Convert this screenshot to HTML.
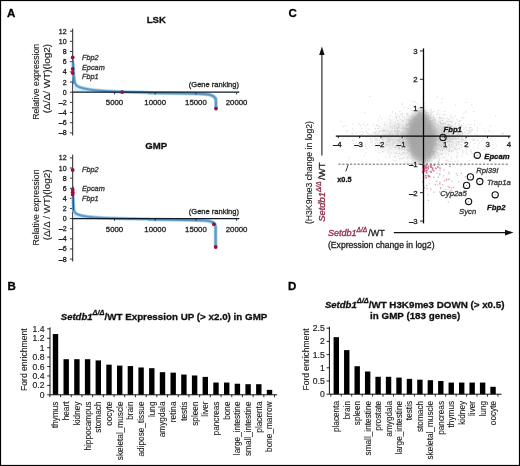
<!DOCTYPE html>
<html><head><meta charset="utf-8"><style>
html,body{margin:0;padding:0;background:#fff;}
#c{position:relative;width:520px;height:466px;overflow:hidden;background:#fff;}
svg{position:absolute;left:0;top:0;will-change:transform;}
text{font-family:"Liberation Sans", sans-serif;}
</style></head><body><div id="c">
<svg width="520" height="466" viewBox="0 0 520 466">
<rect x="0" y="0" width="520" height="466" fill="#fff"/>
<text x="7.00" y="17.20" font-size="11.5" text-anchor="start" font-weight="bold" font-style="normal" fill="#000" stroke="#000" stroke-width="0.3" >A</text>
<text x="288.50" y="17.20" font-size="11.5" text-anchor="start" font-weight="bold" font-style="normal" fill="#000" stroke="#000" stroke-width="0.3" >C</text>
<text x="7.50" y="290.20" font-size="11.5" text-anchor="start" font-weight="bold" font-style="normal" fill="#000" stroke="#000" stroke-width="0.3" >B</text>
<text x="288.00" y="290.20" font-size="11.5" text-anchor="start" font-weight="bold" font-style="normal" fill="#000" stroke="#000" stroke-width="0.3" >D</text>
<line x1="72.70" y1="28.70" x2="72.70" y2="135.50" stroke="#222" stroke-width="1" />
<line x1="69.90" y1="132.88" x2="72.70" y2="132.88" stroke="#222" stroke-width="0.9" />
<text x="66.60" y="135.38" font-size="7.0" text-anchor="end" font-weight="normal" font-style="normal" fill="#222" stroke="#222" stroke-width="0.3" >&#8211;8</text>
<line x1="69.90" y1="122.71" x2="72.70" y2="122.71" stroke="#222" stroke-width="0.9" />
<text x="66.60" y="125.21" font-size="7.0" text-anchor="end" font-weight="normal" font-style="normal" fill="#222" stroke="#222" stroke-width="0.3" >&#8211;6</text>
<line x1="69.90" y1="112.54" x2="72.70" y2="112.54" stroke="#222" stroke-width="0.9" />
<text x="66.60" y="115.04" font-size="7.0" text-anchor="end" font-weight="normal" font-style="normal" fill="#222" stroke="#222" stroke-width="0.3" >&#8211;4</text>
<line x1="69.90" y1="102.37" x2="72.70" y2="102.37" stroke="#222" stroke-width="0.9" />
<text x="66.60" y="104.87" font-size="7.0" text-anchor="end" font-weight="normal" font-style="normal" fill="#222" stroke="#222" stroke-width="0.3" >&#8211;2</text>
<line x1="69.90" y1="92.20" x2="72.70" y2="92.20" stroke="#222" stroke-width="0.9" />
<text x="66.60" y="94.70" font-size="7.0" text-anchor="end" font-weight="normal" font-style="normal" fill="#222" stroke="#222" stroke-width="0.3" >0</text>
<line x1="69.90" y1="82.03" x2="72.70" y2="82.03" stroke="#222" stroke-width="0.9" />
<text x="66.60" y="84.53" font-size="7.0" text-anchor="end" font-weight="normal" font-style="normal" fill="#222" stroke="#222" stroke-width="0.3" >2</text>
<line x1="69.90" y1="71.86" x2="72.70" y2="71.86" stroke="#222" stroke-width="0.9" />
<text x="66.60" y="74.36" font-size="7.0" text-anchor="end" font-weight="normal" font-style="normal" fill="#222" stroke="#222" stroke-width="0.3" >4</text>
<line x1="69.90" y1="61.69" x2="72.70" y2="61.69" stroke="#222" stroke-width="0.9" />
<text x="66.60" y="64.19" font-size="7.0" text-anchor="end" font-weight="normal" font-style="normal" fill="#222" stroke="#222" stroke-width="0.3" >6</text>
<line x1="69.90" y1="51.52" x2="72.70" y2="51.52" stroke="#222" stroke-width="0.9" />
<text x="66.60" y="54.02" font-size="7.0" text-anchor="end" font-weight="normal" font-style="normal" fill="#222" stroke="#222" stroke-width="0.3" >8</text>
<line x1="69.90" y1="41.35" x2="72.70" y2="41.35" stroke="#222" stroke-width="0.9" />
<text x="66.60" y="43.85" font-size="7.0" text-anchor="end" font-weight="normal" font-style="normal" fill="#222" stroke="#222" stroke-width="0.3" >10</text>
<line x1="69.90" y1="31.18" x2="72.70" y2="31.18" stroke="#222" stroke-width="0.9" />
<text x="66.60" y="33.68" font-size="7.0" text-anchor="end" font-weight="normal" font-style="normal" fill="#222" stroke="#222" stroke-width="0.3" >12</text>
<text x="156.30" y="22.70" font-size="9.6" text-anchor="middle" font-weight="bold" font-style="normal" fill="#111" stroke="#111" stroke-width="0.3" >LSK</text>
<g transform="translate(35.70,43.80) rotate(-90)"><text x="0" y="3.02" font-size="8.4" text-anchor="end" font-weight="normal" font-style="normal" fill="#222" stroke="#222" stroke-width="0.12" textLength="76" lengthAdjust="spacingAndGlyphs">Relative expression</text></g>
<g transform="translate(47.20,43.80) rotate(-90)"><text x="0" y="3.02" font-size="8.4" text-anchor="end" font-weight="normal" font-style="normal" fill="#222" stroke="#222" stroke-width="0.12" textLength="69.5" lengthAdjust="spacingAndGlyphs">(&#916;/&#916;/ WT)(log2)</text></g>
<path d="M73.00,62.71 L73.10,64.95 L73.20,66.96 L73.30,68.77 L73.40,70.40 L73.50,71.86 L73.60,73.18 L73.70,74.37 L73.80,75.44 L73.90,76.41 L74.00,77.28 L74.10,78.07 L74.20,78.78 L74.30,79.43 L74.40,80.01 L74.50,80.54 L74.60,81.02 L74.70,81.46 L74.80,81.86 L74.90,82.22 L75.00,82.55 L75.10,82.85 L75.20,83.13 L75.30,83.38 L75.40,83.62 L75.50,83.83 L75.60,84.03 L75.70,84.21 L75.80,84.38 L75.90,84.54 L76.00,84.69 L76.10,84.82 L76.35,85.13 L76.60,85.39 L76.85,85.62 L77.10,85.82 L77.35,86.00 L77.60,86.16 L77.85,86.31 L78.10,86.45 L78.35,86.57 L78.60,86.69 L78.85,86.81 L79.10,86.92 L79.35,87.02 L79.60,87.12 L79.85,87.22 L80.10,87.31 L80.35,87.40 L80.60,87.48 L80.85,87.57 L81.10,87.65 L81.35,87.73 L81.60,87.80 L81.85,87.88 L82.10,87.95 L82.35,88.02 L82.60,88.09 L82.85,88.16 L83.10,88.22 L83.35,88.29 L83.60,88.35 L83.85,88.41 L84.10,88.47 L84.35,88.53 L84.60,88.59 L84.85,88.64 L85.10,88.70 L85.35,88.75 L85.60,88.80 L85.85,88.85 L86.10,88.90 L86.35,88.95 L86.60,89.00 L86.85,89.04 L87.10,89.09 L87.35,89.14 L87.60,89.18 L87.85,89.22 L88.10,89.26 L88.35,89.31 L88.60,89.35 L88.85,89.39 L89.10,89.43 L89.35,89.47 L89.60,89.50 L89.85,89.54 L90.10,89.58 L91.10,89.72 L92.10,89.85 L93.10,89.97 L94.10,90.09 L95.10,90.19 L96.10,90.30 L97.10,90.39 L98.10,90.49 L99.10,90.57 L100.10,90.65 L101.10,90.73 L102.10,90.81 L103.10,90.88 L104.10,90.95 L105.10,91.01 L106.10,91.08 L107.10,91.14 L108.10,91.19 L109.10,91.25 L110.10,91.30 L111.10,91.35 L112.10,91.40 L113.10,91.45 L114.10,91.50 L115.10,91.54 L116.10,91.59 L117.10,91.63 L118.10,91.67 L119.10,91.71 L120.10,91.75 L121.10,91.78 L122.10,91.82 L123.10,91.86 L124.10,91.89 L125.10,91.92 L126.10,91.96 L127.10,91.99 L128.10,92.02 L129.10,92.05 L130.10,92.08 L131.10,92.11 L132.10,92.14 L133.10,92.16 L134.10,92.19 L135.10,92.22 L136.10,92.24 L137.10,92.27 L138.10,92.29 L139.10,92.32 L140.10,92.34 L141.10,92.36 L142.10,92.39 L143.10,92.41 L144.10,92.43 L145.10,92.45 L146.10,92.48 L147.10,92.50 L148.10,92.52 L149.10,92.54 L149.10,92.20 L73.00,92.20 Z" fill="#d9eff9"/><path d="M73.00,62.71 L73.10,64.95 L73.20,66.96 L73.30,68.77 L73.40,70.40 L73.50,71.86 L73.60,73.18 L73.70,74.37 L73.80,75.44 L73.90,76.41 L74.00,77.28 L74.10,78.07 L74.20,78.78 L74.30,79.43 L74.40,80.01 L74.50,80.54 L74.60,81.02 L74.70,81.46 L74.80,81.86 L74.90,82.22 L75.00,82.55 L75.10,82.85 L75.20,83.13 L75.30,83.38 L75.40,83.62 L75.50,83.83 L75.60,84.03 L75.70,84.21 L75.80,84.38 L75.90,84.54 L76.00,84.69 L76.10,84.82 L76.35,85.13 L76.60,85.39 L76.85,85.62 L77.10,85.82 L77.35,86.00 L77.60,86.16 L77.85,86.31 L78.10,86.45 L78.35,86.57 L78.60,86.69 L78.85,86.81 L79.10,86.92 L79.35,87.02 L79.60,87.12 L79.85,87.22 L80.10,87.31 L80.35,87.40 L80.60,87.48 L80.85,87.57 L81.10,87.65 L81.35,87.73 L81.60,87.80 L81.85,87.88 L82.10,87.95 L82.35,88.02 L82.60,88.09 L82.85,88.16 L83.10,88.22 L83.35,88.29 L83.60,88.35 L83.85,88.41 L84.10,88.47 L84.35,88.53 L84.60,88.59 L84.85,88.64 L85.10,88.70 L85.35,88.75 L85.60,88.80 L85.85,88.85 L86.10,88.90 L86.35,88.95 L86.60,89.00 L86.85,89.04 L87.10,89.09 L87.35,89.14 L87.60,89.18 L87.85,89.22 L88.10,89.26 L88.35,89.31 L88.60,89.35 L88.85,89.39 L89.10,89.43 L89.35,89.47 L89.60,89.50 L89.85,89.54 L90.10,89.58 L91.10,89.72 L92.10,89.85 L93.10,89.97 L94.10,90.09 L95.10,90.19 L96.10,90.30 L97.10,90.39 L98.10,90.49 L99.10,90.57 L100.10,90.65 L101.10,90.73 L102.10,90.81 L103.10,90.88 L104.10,90.95 L105.10,91.01 L106.10,91.08 L107.10,91.14 L108.10,91.19 L109.10,91.25 L110.10,91.30 L111.10,91.35 L112.10,91.40 L113.10,91.45 L114.10,91.50 L115.10,91.54 L116.10,91.59 L117.10,91.63 L118.10,91.67 L119.10,91.71 L120.10,91.75 L121.10,91.78 L122.10,91.82 L123.10,91.86 L124.10,91.89 L125.10,91.92 L126.10,91.96 L127.10,91.99 L128.10,92.02 L129.10,92.05 L130.10,92.08 L131.10,92.11 L132.10,92.14 L133.10,92.16 L134.10,92.19 L135.10,92.22 L136.10,92.24 L137.10,92.27 L138.10,92.29 L139.10,92.32 L140.10,92.34 L141.10,92.36 L142.10,92.39 L143.10,92.41 L144.10,92.43 L145.10,92.45 L146.10,92.48 L147.10,92.50 L148.10,92.52 L149.10,92.54" fill="none" stroke="#a3d3ee" stroke-width="3.6" stroke-linejoin="round"/><path d="M73.00,62.71 L73.10,64.95 L73.20,66.96 L73.30,68.77 L73.40,70.40 L73.50,71.86 L73.60,73.18 L73.70,74.37 L73.80,75.44 L73.90,76.41 L74.00,77.28 L74.10,78.07 L74.20,78.78 L74.30,79.43 L74.40,80.01 L74.50,80.54 L74.60,81.02 L74.70,81.46 L74.80,81.86 L74.90,82.22 L75.00,82.55 L75.10,82.85 L75.20,83.13 L75.30,83.38 L75.40,83.62 L75.50,83.83 L75.60,84.03 L75.70,84.21 L75.80,84.38 L75.90,84.54 L76.00,84.69 L76.10,84.82 L76.35,85.13 L76.60,85.39 L76.85,85.62 L77.10,85.82 L77.35,86.00 L77.60,86.16 L77.85,86.31 L78.10,86.45 L78.35,86.57 L78.60,86.69 L78.85,86.81 L79.10,86.92 L79.35,87.02 L79.60,87.12 L79.85,87.22 L80.10,87.31 L80.35,87.40 L80.60,87.48 L80.85,87.57 L81.10,87.65 L81.35,87.73 L81.60,87.80 L81.85,87.88 L82.10,87.95 L82.35,88.02 L82.60,88.09 L82.85,88.16 L83.10,88.22 L83.35,88.29 L83.60,88.35 L83.85,88.41 L84.10,88.47 L84.35,88.53 L84.60,88.59 L84.85,88.64 L85.10,88.70 L85.35,88.75 L85.60,88.80 L85.85,88.85 L86.10,88.90 L86.35,88.95 L86.60,89.00 L86.85,89.04 L87.10,89.09 L87.35,89.14 L87.60,89.18 L87.85,89.22 L88.10,89.26 L88.35,89.31 L88.60,89.35 L88.85,89.39 L89.10,89.43 L89.35,89.47 L89.60,89.50 L89.85,89.54 L90.10,89.58 L91.10,89.72 L92.10,89.85 L93.10,89.97 L94.10,90.09 L95.10,90.19 L96.10,90.30 L97.10,90.39 L98.10,90.49 L99.10,90.57 L100.10,90.65 L101.10,90.73 L102.10,90.81 L103.10,90.88 L104.10,90.95 L105.10,91.01 L106.10,91.08 L107.10,91.14 L108.10,91.19 L109.10,91.25 L110.10,91.30 L111.10,91.35 L112.10,91.40 L113.10,91.45 L114.10,91.50 L115.10,91.54 L116.10,91.59 L117.10,91.63 L118.10,91.67 L119.10,91.71 L120.10,91.75 L121.10,91.78 L122.10,91.82 L123.10,91.86 L124.10,91.89 L125.10,91.92 L126.10,91.96 L127.10,91.99 L128.10,92.02 L129.10,92.05 L130.10,92.08 L131.10,92.11 L132.10,92.14 L133.10,92.16 L134.10,92.19 L135.10,92.22 L136.10,92.24 L137.10,92.27 L138.10,92.29 L139.10,92.32 L140.10,92.34 L141.10,92.36 L142.10,92.39 L143.10,92.41 L144.10,92.43 L145.10,92.45 L146.10,92.48 L147.10,92.50 L148.10,92.52 L149.10,92.54" fill="none" stroke="#5b98cb" stroke-width="1.9" stroke-linejoin="round"/><path d="M148,92.9 C172,93.1 195,93.6 205,94.1 Q215.9,94.8 215.9,100.5 L215.9,108.6" fill="none" stroke="#a8d6ee" stroke-width="3.8" stroke-linecap="butt"/><path d="M148,92.9 C172,93.1 195,93.6 205,94.1 Q215.9,94.8 215.9,100.5 L215.9,108.6" fill="none" stroke="#6398c2" stroke-width="2.2" stroke-linecap="butt"/><path d="M73.3,60.16 L73.3,84.06" stroke="#3f80b8" stroke-width="1.5"/>
<line x1="72.70" y1="92.20" x2="239.30" y2="92.20" stroke="#0d1a2a" stroke-width="1.3" />
<line x1="114.50" y1="92.20" x2="114.50" y2="94.40" stroke="#222" stroke-width="0.9" />
<text x="114.50" y="105.20" font-size="7.8" text-anchor="middle" font-weight="normal" font-style="normal" fill="#222" stroke="#222" stroke-width="0.3" >5000</text>
<line x1="155.20" y1="92.20" x2="155.20" y2="94.40" stroke="#222" stroke-width="0.9" />
<text x="155.20" y="105.20" font-size="7.8" text-anchor="middle" font-weight="normal" font-style="normal" fill="#222" stroke="#222" stroke-width="0.3" >10000</text>
<line x1="195.90" y1="92.20" x2="195.90" y2="94.40" stroke="#222" stroke-width="0.9" />
<text x="195.90" y="105.20" font-size="7.8" text-anchor="middle" font-weight="normal" font-style="normal" fill="#222" stroke="#222" stroke-width="0.3" >15000</text>
<line x1="236.60" y1="92.20" x2="236.60" y2="94.40" stroke="#222" stroke-width="0.9" />
<text x="236.60" y="105.20" font-size="7.8" text-anchor="middle" font-weight="normal" font-style="normal" fill="#222" stroke="#222" stroke-width="0.3" >20000</text>
<text x="239.00" y="87.20" font-size="7.55" text-anchor="end" font-weight="normal" font-style="normal" fill="#222" stroke="#222" stroke-width="0.3" textLength="50.2" lengthAdjust="spacingAndGlyphs" >(Gene ranking)</text>
<circle cx="72.7" cy="57.5" r="1.9" fill="#9a0f3a"/>
<circle cx="72.7" cy="69.0" r="1.9" fill="#9a0f3a"/>
<circle cx="72.7" cy="73.0" r="1.9" fill="#9a0f3a"/>
<circle cx="122.2" cy="92.1" r="1.9" fill="#9a0f3a"/>
<circle cx="216.0" cy="108.6" r="1.9" fill="#9a0f3a"/>
<text x="82.00" y="59.80" font-size="7.3" text-anchor="start" font-weight="normal" font-style="italic" fill="#333" stroke="#333" stroke-width="0.3" >Fbp2</text>
<text x="82.00" y="69.80" font-size="7.3" text-anchor="start" font-weight="normal" font-style="italic" fill="#333" stroke="#333" stroke-width="0.3" >Epcam</text>
<text x="82.00" y="79.40" font-size="7.3" text-anchor="start" font-weight="normal" font-style="italic" fill="#333" stroke="#333" stroke-width="0.3" >Fbp1</text>
<line x1="72.70" y1="154.60" x2="72.70" y2="261.50" stroke="#222" stroke-width="1" />
<line x1="69.90" y1="259.08" x2="72.70" y2="259.08" stroke="#222" stroke-width="0.9" />
<text x="66.60" y="261.58" font-size="7.0" text-anchor="end" font-weight="normal" font-style="normal" fill="#222" stroke="#222" stroke-width="0.3" >&#8211;8</text>
<line x1="69.90" y1="248.96" x2="72.70" y2="248.96" stroke="#222" stroke-width="0.9" />
<text x="66.60" y="251.46" font-size="7.0" text-anchor="end" font-weight="normal" font-style="normal" fill="#222" stroke="#222" stroke-width="0.3" >&#8211;6</text>
<line x1="69.90" y1="238.84" x2="72.70" y2="238.84" stroke="#222" stroke-width="0.9" />
<text x="66.60" y="241.34" font-size="7.0" text-anchor="end" font-weight="normal" font-style="normal" fill="#222" stroke="#222" stroke-width="0.3" >&#8211;4</text>
<line x1="69.90" y1="228.72" x2="72.70" y2="228.72" stroke="#222" stroke-width="0.9" />
<text x="66.60" y="231.22" font-size="7.0" text-anchor="end" font-weight="normal" font-style="normal" fill="#222" stroke="#222" stroke-width="0.3" >&#8211;2</text>
<line x1="69.90" y1="218.60" x2="72.70" y2="218.60" stroke="#222" stroke-width="0.9" />
<text x="66.60" y="221.10" font-size="7.0" text-anchor="end" font-weight="normal" font-style="normal" fill="#222" stroke="#222" stroke-width="0.3" >0</text>
<line x1="69.90" y1="208.48" x2="72.70" y2="208.48" stroke="#222" stroke-width="0.9" />
<text x="66.60" y="210.98" font-size="7.0" text-anchor="end" font-weight="normal" font-style="normal" fill="#222" stroke="#222" stroke-width="0.3" >2</text>
<line x1="69.90" y1="198.36" x2="72.70" y2="198.36" stroke="#222" stroke-width="0.9" />
<text x="66.60" y="200.86" font-size="7.0" text-anchor="end" font-weight="normal" font-style="normal" fill="#222" stroke="#222" stroke-width="0.3" >4</text>
<line x1="69.90" y1="188.24" x2="72.70" y2="188.24" stroke="#222" stroke-width="0.9" />
<text x="66.60" y="190.74" font-size="7.0" text-anchor="end" font-weight="normal" font-style="normal" fill="#222" stroke="#222" stroke-width="0.3" >6</text>
<line x1="69.90" y1="178.12" x2="72.70" y2="178.12" stroke="#222" stroke-width="0.9" />
<text x="66.60" y="180.62" font-size="7.0" text-anchor="end" font-weight="normal" font-style="normal" fill="#222" stroke="#222" stroke-width="0.3" >8</text>
<line x1="69.90" y1="168.00" x2="72.70" y2="168.00" stroke="#222" stroke-width="0.9" />
<text x="66.60" y="170.50" font-size="7.0" text-anchor="end" font-weight="normal" font-style="normal" fill="#222" stroke="#222" stroke-width="0.3" >10</text>
<line x1="69.90" y1="157.88" x2="72.70" y2="157.88" stroke="#222" stroke-width="0.9" />
<text x="66.60" y="160.38" font-size="7.0" text-anchor="end" font-weight="normal" font-style="normal" fill="#222" stroke="#222" stroke-width="0.3" >12</text>
<text x="156.30" y="149.40" font-size="9.6" text-anchor="middle" font-weight="bold" font-style="normal" fill="#111" stroke="#111" stroke-width="0.3" >GMP</text>
<g transform="translate(35.70,169.50) rotate(-90)"><text x="0" y="3.02" font-size="8.4" text-anchor="end" font-weight="normal" font-style="normal" fill="#222" stroke="#222" stroke-width="0.12" textLength="76" lengthAdjust="spacingAndGlyphs">Relative expression</text></g>
<g transform="translate(47.20,169.50) rotate(-90)"><text x="0" y="3.02" font-size="8.4" text-anchor="end" font-weight="normal" font-style="normal" fill="#222" stroke="#222" stroke-width="0.12" textLength="70.8" lengthAdjust="spacingAndGlyphs">(&#916;/&#916; / WT)(log2)</text></g>
<path d="M73.00,196.27 L73.10,199.05 L73.20,201.34 L73.30,203.24 L73.40,204.80 L73.50,206.10 L73.60,207.19 L73.70,208.09 L73.80,208.84 L73.90,209.47 L74.00,210.00 L74.10,210.46 L74.20,210.84 L74.30,211.17 L74.40,211.45 L74.50,211.69 L74.60,211.90 L74.70,212.09 L74.80,212.26 L74.90,212.40 L75.00,212.54 L75.10,212.66 L75.20,212.77 L75.30,212.87 L75.40,212.96 L75.50,213.05 L75.60,213.13 L75.70,213.21 L75.80,213.28 L75.90,213.35 L76.00,213.42 L76.10,213.49 L76.35,213.64 L76.60,213.78 L76.85,213.91 L77.10,214.04 L77.35,214.16 L77.60,214.27 L77.85,214.38 L78.10,214.48 L78.35,214.58 L78.60,214.68 L78.85,214.77 L79.10,214.86 L79.35,214.94 L79.60,215.02 L79.85,215.10 L80.10,215.18 L80.35,215.25 L80.60,215.32 L80.85,215.39 L81.10,215.46 L81.35,215.52 L81.60,215.58 L81.85,215.64 L82.10,215.70 L82.35,215.76 L82.60,215.82 L82.85,215.87 L83.10,215.92 L83.35,215.97 L83.60,216.02 L83.85,216.07 L84.10,216.12 L84.35,216.16 L84.60,216.21 L84.85,216.25 L85.10,216.29 L85.35,216.33 L85.60,216.37 L85.85,216.41 L86.10,216.45 L86.35,216.49 L86.60,216.52 L86.85,216.56 L87.10,216.59 L87.35,216.63 L87.60,216.66 L87.85,216.69 L88.10,216.72 L88.35,216.76 L88.60,216.79 L88.85,216.82 L89.10,216.84 L89.35,216.87 L89.60,216.90 L89.85,216.93 L90.10,216.96 L91.10,217.06 L92.10,217.15 L93.10,217.24 L94.10,217.33 L95.10,217.40 L96.10,217.48 L97.10,217.55 L98.10,217.61 L99.10,217.67 L100.10,217.73 L101.10,217.78 L102.10,217.84 L103.10,217.89 L104.10,217.93 L105.10,217.98 L106.10,218.02 L107.10,218.07 L108.10,218.11 L109.10,218.14 L110.10,218.18 L111.10,218.22 L112.10,218.25 L113.10,218.29 L114.10,218.32 L115.10,218.35 L116.10,218.38 L117.10,218.41 L118.10,218.44 L119.10,218.46 L120.10,218.49 L121.10,218.52 L122.10,218.54 L123.10,218.57 L124.10,218.59 L125.10,218.62 L126.10,218.64 L127.10,218.66 L128.10,218.68 L129.10,218.70 L130.10,218.73 L131.10,218.75 L132.10,218.77 L133.10,218.79 L134.10,218.80 L135.10,218.82 L136.10,218.84 L137.10,218.86 L138.10,218.88 L139.10,218.90 L140.10,218.91 L141.10,218.93 L142.10,218.95 L143.10,218.96 L144.10,218.98 L145.10,219.00 L146.10,219.01 L147.10,219.03 L148.10,219.04 L149.10,219.06 L149.10,218.60 L73.00,218.60 Z" fill="#d9eff9"/><path d="M73.00,196.27 L73.10,199.05 L73.20,201.34 L73.30,203.24 L73.40,204.80 L73.50,206.10 L73.60,207.19 L73.70,208.09 L73.80,208.84 L73.90,209.47 L74.00,210.00 L74.10,210.46 L74.20,210.84 L74.30,211.17 L74.40,211.45 L74.50,211.69 L74.60,211.90 L74.70,212.09 L74.80,212.26 L74.90,212.40 L75.00,212.54 L75.10,212.66 L75.20,212.77 L75.30,212.87 L75.40,212.96 L75.50,213.05 L75.60,213.13 L75.70,213.21 L75.80,213.28 L75.90,213.35 L76.00,213.42 L76.10,213.49 L76.35,213.64 L76.60,213.78 L76.85,213.91 L77.10,214.04 L77.35,214.16 L77.60,214.27 L77.85,214.38 L78.10,214.48 L78.35,214.58 L78.60,214.68 L78.85,214.77 L79.10,214.86 L79.35,214.94 L79.60,215.02 L79.85,215.10 L80.10,215.18 L80.35,215.25 L80.60,215.32 L80.85,215.39 L81.10,215.46 L81.35,215.52 L81.60,215.58 L81.85,215.64 L82.10,215.70 L82.35,215.76 L82.60,215.82 L82.85,215.87 L83.10,215.92 L83.35,215.97 L83.60,216.02 L83.85,216.07 L84.10,216.12 L84.35,216.16 L84.60,216.21 L84.85,216.25 L85.10,216.29 L85.35,216.33 L85.60,216.37 L85.85,216.41 L86.10,216.45 L86.35,216.49 L86.60,216.52 L86.85,216.56 L87.10,216.59 L87.35,216.63 L87.60,216.66 L87.85,216.69 L88.10,216.72 L88.35,216.76 L88.60,216.79 L88.85,216.82 L89.10,216.84 L89.35,216.87 L89.60,216.90 L89.85,216.93 L90.10,216.96 L91.10,217.06 L92.10,217.15 L93.10,217.24 L94.10,217.33 L95.10,217.40 L96.10,217.48 L97.10,217.55 L98.10,217.61 L99.10,217.67 L100.10,217.73 L101.10,217.78 L102.10,217.84 L103.10,217.89 L104.10,217.93 L105.10,217.98 L106.10,218.02 L107.10,218.07 L108.10,218.11 L109.10,218.14 L110.10,218.18 L111.10,218.22 L112.10,218.25 L113.10,218.29 L114.10,218.32 L115.10,218.35 L116.10,218.38 L117.10,218.41 L118.10,218.44 L119.10,218.46 L120.10,218.49 L121.10,218.52 L122.10,218.54 L123.10,218.57 L124.10,218.59 L125.10,218.62 L126.10,218.64 L127.10,218.66 L128.10,218.68 L129.10,218.70 L130.10,218.73 L131.10,218.75 L132.10,218.77 L133.10,218.79 L134.10,218.80 L135.10,218.82 L136.10,218.84 L137.10,218.86 L138.10,218.88 L139.10,218.90 L140.10,218.91 L141.10,218.93 L142.10,218.95 L143.10,218.96 L144.10,218.98 L145.10,219.00 L146.10,219.01 L147.10,219.03 L148.10,219.04 L149.10,219.06" fill="none" stroke="#a3d3ee" stroke-width="3.6" stroke-linejoin="round"/><path d="M73.00,196.27 L73.10,199.05 L73.20,201.34 L73.30,203.24 L73.40,204.80 L73.50,206.10 L73.60,207.19 L73.70,208.09 L73.80,208.84 L73.90,209.47 L74.00,210.00 L74.10,210.46 L74.20,210.84 L74.30,211.17 L74.40,211.45 L74.50,211.69 L74.60,211.90 L74.70,212.09 L74.80,212.26 L74.90,212.40 L75.00,212.54 L75.10,212.66 L75.20,212.77 L75.30,212.87 L75.40,212.96 L75.50,213.05 L75.60,213.13 L75.70,213.21 L75.80,213.28 L75.90,213.35 L76.00,213.42 L76.10,213.49 L76.35,213.64 L76.60,213.78 L76.85,213.91 L77.10,214.04 L77.35,214.16 L77.60,214.27 L77.85,214.38 L78.10,214.48 L78.35,214.58 L78.60,214.68 L78.85,214.77 L79.10,214.86 L79.35,214.94 L79.60,215.02 L79.85,215.10 L80.10,215.18 L80.35,215.25 L80.60,215.32 L80.85,215.39 L81.10,215.46 L81.35,215.52 L81.60,215.58 L81.85,215.64 L82.10,215.70 L82.35,215.76 L82.60,215.82 L82.85,215.87 L83.10,215.92 L83.35,215.97 L83.60,216.02 L83.85,216.07 L84.10,216.12 L84.35,216.16 L84.60,216.21 L84.85,216.25 L85.10,216.29 L85.35,216.33 L85.60,216.37 L85.85,216.41 L86.10,216.45 L86.35,216.49 L86.60,216.52 L86.85,216.56 L87.10,216.59 L87.35,216.63 L87.60,216.66 L87.85,216.69 L88.10,216.72 L88.35,216.76 L88.60,216.79 L88.85,216.82 L89.10,216.84 L89.35,216.87 L89.60,216.90 L89.85,216.93 L90.10,216.96 L91.10,217.06 L92.10,217.15 L93.10,217.24 L94.10,217.33 L95.10,217.40 L96.10,217.48 L97.10,217.55 L98.10,217.61 L99.10,217.67 L100.10,217.73 L101.10,217.78 L102.10,217.84 L103.10,217.89 L104.10,217.93 L105.10,217.98 L106.10,218.02 L107.10,218.07 L108.10,218.11 L109.10,218.14 L110.10,218.18 L111.10,218.22 L112.10,218.25 L113.10,218.29 L114.10,218.32 L115.10,218.35 L116.10,218.38 L117.10,218.41 L118.10,218.44 L119.10,218.46 L120.10,218.49 L121.10,218.52 L122.10,218.54 L123.10,218.57 L124.10,218.59 L125.10,218.62 L126.10,218.64 L127.10,218.66 L128.10,218.68 L129.10,218.70 L130.10,218.73 L131.10,218.75 L132.10,218.77 L133.10,218.79 L134.10,218.80 L135.10,218.82 L136.10,218.84 L137.10,218.86 L138.10,218.88 L139.10,218.90 L140.10,218.91 L141.10,218.93 L142.10,218.95 L143.10,218.96 L144.10,218.98 L145.10,219.00 L146.10,219.01 L147.10,219.03 L148.10,219.04 L149.10,219.06" fill="none" stroke="#5b98cb" stroke-width="1.9" stroke-linejoin="round"/><path d="M148,219.3 C172,219.5 195,220.0 205,220.5 Q215.6,221.2 215.6,227 L215.6,247" fill="none" stroke="#a8d6ee" stroke-width="3.8" stroke-linecap="butt"/><path d="M148,219.3 C172,219.5 195,220.0 205,220.5 Q215.6,221.2 215.6,227 L215.6,247" fill="none" stroke="#6398c2" stroke-width="2.2" stroke-linecap="butt"/><path d="M73.3,186.72 L73.3,210.50" stroke="#1f5a8e" stroke-width="1.5"/>
<line x1="72.70" y1="218.60" x2="239.30" y2="218.60" stroke="#0d1a2a" stroke-width="1.3" />
<line x1="114.50" y1="218.60" x2="114.50" y2="220.80" stroke="#222" stroke-width="0.9" />
<text x="114.50" y="231.60" font-size="7.8" text-anchor="middle" font-weight="normal" font-style="normal" fill="#222" stroke="#222" stroke-width="0.3" >5000</text>
<line x1="155.20" y1="218.60" x2="155.20" y2="220.80" stroke="#222" stroke-width="0.9" />
<text x="155.20" y="231.60" font-size="7.8" text-anchor="middle" font-weight="normal" font-style="normal" fill="#222" stroke="#222" stroke-width="0.3" >10000</text>
<line x1="195.90" y1="218.60" x2="195.90" y2="220.80" stroke="#222" stroke-width="0.9" />
<text x="195.90" y="231.60" font-size="7.8" text-anchor="middle" font-weight="normal" font-style="normal" fill="#222" stroke="#222" stroke-width="0.3" >15000</text>
<line x1="236.60" y1="218.60" x2="236.60" y2="220.80" stroke="#222" stroke-width="0.9" />
<text x="236.60" y="231.60" font-size="7.8" text-anchor="middle" font-weight="normal" font-style="normal" fill="#222" stroke="#222" stroke-width="0.3" >20000</text>
<text x="239.00" y="214.40" font-size="7.55" text-anchor="end" font-weight="normal" font-style="normal" fill="#222" stroke="#222" stroke-width="0.3" textLength="50.2" lengthAdjust="spacingAndGlyphs" >(Gene ranking)</text>
<circle cx="72.7" cy="170.0" r="1.9" fill="#9a0f3a"/>
<circle cx="72.7" cy="189.8" r="1.9" fill="#9a0f3a"/>
<circle cx="72.7" cy="192.3" r="1.9" fill="#9a0f3a"/>
<circle cx="72.7" cy="194.6" r="1.9" fill="#9a0f3a"/>
<circle cx="213.9" cy="224.2" r="1.9" fill="#9a0f3a"/>
<circle cx="215.7" cy="247.0" r="1.9" fill="#9a0f3a"/>
<text x="82.00" y="172.30" font-size="7.3" text-anchor="start" font-weight="normal" font-style="italic" fill="#333" stroke="#333" stroke-width="0.3" >Fbp2</text>
<text x="82.00" y="190.90" font-size="7.3" text-anchor="start" font-weight="normal" font-style="italic" fill="#333" stroke="#333" stroke-width="0.3" >Epcam</text>
<text x="82.00" y="201.10" font-size="7.3" text-anchor="start" font-weight="normal" font-style="italic" fill="#333" stroke="#333" stroke-width="0.3" >Fbp1</text>
<defs><filter id="bl" x="-50%" y="-50%" width="200%" height="200%"><feGaussianBlur stdDeviation="2.4"/></filter><filter id="bl2" x="-50%" y="-50%" width="200%" height="200%"><feGaussianBlur stdDeviation="6"/></filter><clipPath id="cc"><rect x="330" y="40" width="185" height="124.2"/></clipPath></defs>
<g clip-path="url(#cc)">
<ellipse cx="419.5" cy="137.0" rx="42" ry="19" fill="#e9e9e9" filter="url(#bl2)"/>
<polygon points="422,108 431,120 437,137 434,155 424,165 411,156 406,137 410,119" fill="#aaaaaa" filter="url(#bl)"/>
<path d="M468.8 127.0h1v1h-1zM397.1 139.9h1v1h-1zM386.6 136.3h1v1h-1zM431.8 136.8h1v1h-1zM424.4 161.1h1v1h-1zM410.3 135.6h1v1h-1zM422.8 138.9h1v1h-1zM411.6 129.0h1v1h-1zM421.8 140.0h1v1h-1zM410.8 141.8h1v1h-1zM446.5 128.5h1v1h-1zM430.4 149.5h1v1h-1zM422.2 129.7h1v1h-1zM443.5 128.0h1v1h-1zM421.6 134.5h1v1h-1zM426.0 131.3h1v1h-1zM401.3 132.5h1v1h-1zM437.3 135.4h1v1h-1zM379.1 125.8h1v1h-1zM422.5 127.1h1v1h-1zM428.6 117.5h1v1h-1zM423.8 132.3h1v1h-1zM413.1 148.4h1v1h-1zM402.9 131.8h1v1h-1zM424.8 131.6h1v1h-1zM456.5 119.0h1v1h-1zM442.3 126.2h1v1h-1zM472.0 136.7h1v1h-1zM419.5 136.1h1v1h-1zM418.8 137.3h1v1h-1zM437.9 110.0h1v1h-1zM414.1 131.7h1v1h-1zM425.2 135.5h1v1h-1zM359.4 134.5h1v1h-1zM437.6 136.0h1v1h-1zM411.7 127.9h1v1h-1zM391.7 134.6h1v1h-1zM471.2 130.5h1v1h-1zM394.5 130.4h1v1h-1zM424.9 147.8h1v1h-1zM433.5 142.2h1v1h-1zM377.3 134.7h1v1h-1zM401.7 103.3h1v1h-1zM434.7 139.7h1v1h-1zM411.8 127.4h1v1h-1zM398.3 124.5h1v1h-1zM420.1 132.3h1v1h-1zM353.5 130.6h1v1h-1zM405.4 131.0h1v1h-1zM471.1 135.3h1v1h-1zM419.6 139.5h1v1h-1zM438.5 141.6h1v1h-1zM448.2 151.3h1v1h-1zM386.6 141.5h1v1h-1zM414.8 135.2h1v1h-1zM433.0 147.0h1v1h-1zM347.2 137.4h1v1h-1zM448.7 144.0h1v1h-1zM439.9 134.6h1v1h-1zM423.2 142.4h1v1h-1zM414.8 150.9h1v1h-1zM423.1 138.9h1v1h-1zM401.4 133.4h1v1h-1zM451.1 156.5h1v1h-1zM458.5 121.1h1v1h-1zM411.9 153.5h1v1h-1zM409.1 137.6h1v1h-1zM438.3 142.9h1v1h-1zM441.1 123.0h1v1h-1zM390.6 138.4h1v1h-1zM424.2 142.0h1v1h-1zM401.6 141.0h1v1h-1zM405.4 130.0h1v1h-1zM434.4 146.2h1v1h-1zM462.8 151.6h1v1h-1zM415.2 131.0h1v1h-1zM406.4 135.4h1v1h-1zM447.0 159.9h1v1h-1zM402.4 140.3h1v1h-1zM426.2 137.5h1v1h-1zM502.1 132.5h1v1h-1zM416.7 146.9h1v1h-1zM417.2 131.1h1v1h-1zM416.1 129.9h1v1h-1zM422.2 135.7h1v1h-1zM418.7 150.6h1v1h-1zM431.5 125.7h1v1h-1zM418.5 140.7h1v1h-1zM418.7 144.6h1v1h-1zM424.8 136.6h1v1h-1zM463.6 127.7h1v1h-1zM412.0 159.7h1v1h-1zM418.8 137.9h1v1h-1zM438.7 138.9h1v1h-1zM423.3 142.1h1v1h-1zM381.7 145.1h1v1h-1zM361.5 134.1h1v1h-1zM415.5 101.9h1v1h-1zM422.4 131.2h1v1h-1zM422.1 118.6h1v1h-1zM437.5 135.6h1v1h-1zM420.9 136.0h1v1h-1zM473.6 133.6h1v1h-1zM427.3 136.0h1v1h-1zM424.8 130.1h1v1h-1zM419.1 136.8h1v1h-1zM421.1 140.3h1v1h-1zM429.1 136.8h1v1h-1zM407.1 123.7h1v1h-1zM426.0 136.4h1v1h-1zM443.8 156.5h1v1h-1zM396.6 136.8h1v1h-1zM436.0 144.4h1v1h-1zM413.2 141.2h1v1h-1zM402.3 145.2h1v1h-1zM402.5 133.5h1v1h-1zM394.8 147.1h1v1h-1zM419.5 130.2h1v1h-1zM424.7 123.6h1v1h-1zM422.3 139.4h1v1h-1zM438.4 136.1h1v1h-1zM413.3 146.0h1v1h-1zM428.8 130.7h1v1h-1zM445.9 139.2h1v1h-1zM381.3 138.9h1v1h-1zM427.1 136.7h1v1h-1zM456.9 133.8h1v1h-1zM431.2 136.0h1v1h-1zM441.1 132.9h1v1h-1zM415.2 132.8h1v1h-1zM423.5 120.5h1v1h-1zM380.4 146.6h1v1h-1zM428.0 140.2h1v1h-1zM416.6 124.0h1v1h-1zM418.4 151.3h1v1h-1zM439.0 138.4h1v1h-1zM432.3 134.2h1v1h-1zM447.1 117.7h1v1h-1zM461.0 146.8h1v1h-1zM381.9 130.9h1v1h-1zM407.6 130.3h1v1h-1zM420.6 132.4h1v1h-1zM428.0 131.6h1v1h-1zM418.0 134.9h1v1h-1zM422.3 129.2h1v1h-1zM459.8 131.3h1v1h-1zM419.2 139.6h1v1h-1zM417.6 133.5h1v1h-1zM390.0 131.9h1v1h-1zM416.2 124.1h1v1h-1zM428.5 134.9h1v1h-1zM422.0 140.1h1v1h-1zM432.2 119.9h1v1h-1zM421.4 125.5h1v1h-1zM476.4 136.0h1v1h-1zM419.6 142.3h1v1h-1zM380.0 135.2h1v1h-1zM423.5 138.3h1v1h-1zM407.6 108.1h1v1h-1zM441.9 136.9h1v1h-1zM434.9 140.2h1v1h-1zM399.5 136.1h1v1h-1zM413.6 142.7h1v1h-1zM373.9 135.5h1v1h-1zM412.9 135.3h1v1h-1zM406.6 133.8h1v1h-1zM405.2 132.2h1v1h-1zM426.9 124.6h1v1h-1zM420.0 139.2h1v1h-1zM419.5 138.6h1v1h-1zM425.3 128.0h1v1h-1zM413.3 161.3h1v1h-1zM384.4 138.0h1v1h-1zM415.3 137.7h1v1h-1zM458.5 124.8h1v1h-1zM382.4 134.2h1v1h-1zM424.0 120.5h1v1h-1zM432.5 136.0h1v1h-1zM416.2 121.3h1v1h-1zM424.9 134.1h1v1h-1zM426.8 124.6h1v1h-1zM424.0 133.6h1v1h-1zM424.1 141.3h1v1h-1zM418.9 155.5h1v1h-1zM430.4 109.1h1v1h-1zM444.5 114.1h1v1h-1zM423.6 136.2h1v1h-1zM461.0 134.8h1v1h-1zM426.6 121.3h1v1h-1zM409.2 119.2h1v1h-1zM430.4 142.1h1v1h-1zM444.9 140.5h1v1h-1zM413.4 134.5h1v1h-1zM456.5 138.6h1v1h-1zM419.9 130.1h1v1h-1zM426.4 140.6h1v1h-1zM402.4 148.9h1v1h-1zM428.8 132.0h1v1h-1zM426.9 137.7h1v1h-1zM420.9 139.4h1v1h-1zM427.9 142.0h1v1h-1zM407.4 145.0h1v1h-1zM421.8 117.8h1v1h-1zM395.3 135.6h1v1h-1zM427.6 137.8h1v1h-1zM382.7 129.9h1v1h-1zM414.4 123.3h1v1h-1zM421.8 133.9h1v1h-1zM429.9 137.9h1v1h-1zM424.1 150.3h1v1h-1zM431.6 134.3h1v1h-1zM424.7 149.5h1v1h-1zM424.5 149.5h1v1h-1zM407.9 145.0h1v1h-1zM441.7 98.2h1v1h-1zM470.5 124.4h1v1h-1zM431.7 153.0h1v1h-1zM439.4 124.9h1v1h-1zM379.8 116.3h1v1h-1zM425.3 140.4h1v1h-1zM433.0 137.2h1v1h-1zM411.2 135.2h1v1h-1zM444.0 137.3h1v1h-1zM426.2 158.1h1v1h-1zM416.1 139.1h1v1h-1zM366.6 132.8h1v1h-1zM424.9 144.7h1v1h-1zM408.6 151.0h1v1h-1zM410.7 140.3h1v1h-1zM416.1 137.4h1v1h-1zM422.9 145.4h1v1h-1zM425.4 129.2h1v1h-1zM439.6 128.6h1v1h-1zM431.1 131.0h1v1h-1zM426.5 144.2h1v1h-1zM433.1 123.7h1v1h-1zM451.3 131.7h1v1h-1zM421.4 132.1h1v1h-1zM434.3 136.4h1v1h-1zM422.2 123.2h1v1h-1zM422.6 127.0h1v1h-1zM420.2 133.1h1v1h-1zM405.7 136.6h1v1h-1zM438.0 134.5h1v1h-1zM459.6 134.7h1v1h-1zM427.1 127.9h1v1h-1zM417.6 137.9h1v1h-1zM426.2 126.3h1v1h-1zM426.3 135.0h1v1h-1zM419.0 124.6h1v1h-1zM428.2 128.7h1v1h-1zM429.7 141.0h1v1h-1zM408.8 139.0h1v1h-1zM429.2 124.8h1v1h-1zM419.7 127.9h1v1h-1zM431.8 116.8h1v1h-1zM413.2 136.2h1v1h-1zM410.7 135.0h1v1h-1zM435.2 128.5h1v1h-1zM420.0 134.5h1v1h-1zM381.2 146.5h1v1h-1zM425.0 153.4h1v1h-1zM437.4 128.2h1v1h-1zM427.9 136.4h1v1h-1zM415.5 137.5h1v1h-1zM423.3 137.3h1v1h-1zM412.3 121.7h1v1h-1zM412.6 139.0h1v1h-1zM344.9 125.3h1v1h-1zM416.3 124.4h1v1h-1zM424.8 134.4h1v1h-1zM418.9 137.1h1v1h-1zM442.6 127.4h1v1h-1zM441.3 133.0h1v1h-1zM422.1 137.6h1v1h-1zM395.2 160.6h1v1h-1zM426.8 132.6h1v1h-1zM416.2 130.6h1v1h-1zM447.4 127.7h1v1h-1zM410.7 137.3h1v1h-1zM421.7 139.6h1v1h-1zM405.0 136.4h1v1h-1zM405.2 136.6h1v1h-1zM426.9 154.0h1v1h-1zM425.2 137.9h1v1h-1zM423.0 150.8h1v1h-1zM433.4 136.9h1v1h-1zM418.2 131.3h1v1h-1zM416.9 135.6h1v1h-1zM460.5 119.8h1v1h-1zM399.6 140.9h1v1h-1zM417.0 142.6h1v1h-1zM404.3 143.3h1v1h-1zM426.4 142.3h1v1h-1zM445.5 136.0h1v1h-1zM471.8 128.7h1v1h-1zM418.4 159.7h1v1h-1zM412.9 159.7h1v1h-1zM413.2 144.4h1v1h-1zM425.0 117.1h1v1h-1zM415.1 140.0h1v1h-1zM428.2 140.1h1v1h-1zM379.3 142.4h1v1h-1zM416.9 129.7h1v1h-1zM440.1 134.4h1v1h-1zM441.4 128.6h1v1h-1zM417.3 142.0h1v1h-1zM429.0 146.9h1v1h-1zM403.8 134.5h1v1h-1zM471.3 104.6h1v1h-1zM420.7 137.8h1v1h-1zM360.2 124.8h1v1h-1zM428.4 144.6h1v1h-1zM418.4 130.7h1v1h-1zM415.7 125.9h1v1h-1zM433.0 138.5h1v1h-1zM423.6 156.3h1v1h-1zM442.0 120.1h1v1h-1zM406.0 141.1h1v1h-1zM428.1 155.1h1v1h-1zM400.1 138.4h1v1h-1zM433.6 144.3h1v1h-1zM434.7 155.1h1v1h-1zM446.6 120.8h1v1h-1zM422.9 137.5h1v1h-1zM412.3 152.0h1v1h-1zM435.4 129.9h1v1h-1zM434.8 124.5h1v1h-1zM427.1 140.2h1v1h-1zM403.5 127.4h1v1h-1zM428.4 135.5h1v1h-1zM415.2 127.6h1v1h-1zM436.8 138.2h1v1h-1zM433.0 137.2h1v1h-1zM398.1 141.4h1v1h-1zM397.7 139.7h1v1h-1zM433.2 123.9h1v1h-1zM400.3 132.3h1v1h-1zM418.7 126.1h1v1h-1zM440.9 136.0h1v1h-1zM430.3 132.7h1v1h-1zM432.1 145.2h1v1h-1zM426.0 119.6h1v1h-1zM422.1 123.0h1v1h-1zM411.9 127.5h1v1h-1zM407.1 161.8h1v1h-1zM427.9 143.3h1v1h-1zM420.4 132.4h1v1h-1zM419.9 122.7h1v1h-1zM409.1 145.4h1v1h-1zM426.9 142.4h1v1h-1zM440.6 142.9h1v1h-1zM431.8 141.5h1v1h-1zM413.3 146.3h1v1h-1zM412.9 137.5h1v1h-1zM433.2 126.7h1v1h-1zM420.4 127.4h1v1h-1zM423.2 145.8h1v1h-1zM448.9 142.1h1v1h-1zM445.2 136.3h1v1h-1zM438.6 135.2h1v1h-1zM429.9 138.8h1v1h-1zM431.9 150.9h1v1h-1zM430.2 131.6h1v1h-1zM455.1 104.6h1v1h-1zM417.3 125.4h1v1h-1zM410.0 149.0h1v1h-1zM415.7 129.3h1v1h-1zM415.7 136.1h1v1h-1zM397.0 128.0h1v1h-1zM399.6 127.8h1v1h-1zM419.8 127.7h1v1h-1zM421.9 153.3h1v1h-1zM446.3 139.9h1v1h-1zM399.8 119.1h1v1h-1zM415.1 135.8h1v1h-1zM412.9 150.8h1v1h-1zM436.6 131.0h1v1h-1zM406.0 141.5h1v1h-1zM435.7 144.8h1v1h-1zM388.8 140.7h1v1h-1zM419.7 137.2h1v1h-1zM418.6 141.1h1v1h-1zM384.2 123.4h1v1h-1zM403.4 139.0h1v1h-1zM433.0 115.2h1v1h-1zM404.1 136.5h1v1h-1zM415.9 124.9h1v1h-1zM375.0 128.0h1v1h-1zM430.5 130.6h1v1h-1zM421.1 139.8h1v1h-1zM408.3 130.5h1v1h-1zM468.0 133.1h1v1h-1zM408.6 118.7h1v1h-1zM396.2 128.5h1v1h-1zM416.3 128.2h1v1h-1zM398.2 126.1h1v1h-1zM428.2 134.5h1v1h-1zM418.3 150.2h1v1h-1zM418.6 132.4h1v1h-1zM411.6 122.4h1v1h-1zM399.7 139.1h1v1h-1zM406.1 125.5h1v1h-1zM437.0 149.3h1v1h-1zM435.4 123.4h1v1h-1zM415.7 117.6h1v1h-1zM433.4 137.8h1v1h-1zM422.0 132.2h1v1h-1zM431.4 138.4h1v1h-1zM430.7 140.0h1v1h-1zM447.2 139.2h1v1h-1zM417.0 136.8h1v1h-1zM352.2 128.5h1v1h-1zM418.8 131.3h1v1h-1zM445.9 138.5h1v1h-1zM417.2 140.0h1v1h-1zM422.7 118.6h1v1h-1zM433.7 152.9h1v1h-1zM462.7 138.5h1v1h-1zM407.8 134.3h1v1h-1zM420.6 111.9h1v1h-1zM387.8 151.4h1v1h-1zM418.9 135.5h1v1h-1zM417.6 159.8h1v1h-1zM437.2 123.9h1v1h-1zM413.7 133.5h1v1h-1zM416.3 134.4h1v1h-1zM398.2 141.4h1v1h-1zM398.9 158.3h1v1h-1zM422.3 117.3h1v1h-1zM400.4 158.1h1v1h-1zM451.8 141.1h1v1h-1zM429.5 141.5h1v1h-1zM425.9 147.3h1v1h-1zM404.3 140.9h1v1h-1zM418.7 133.6h1v1h-1zM418.7 132.5h1v1h-1zM418.9 139.3h1v1h-1zM425.4 144.5h1v1h-1zM410.9 134.9h1v1h-1zM369.4 95.9h1v1h-1zM421.9 131.4h1v1h-1zM422.6 134.7h1v1h-1zM414.6 129.9h1v1h-1zM423.5 134.3h1v1h-1zM424.1 133.9h1v1h-1zM421.2 142.3h1v1h-1zM404.4 143.8h1v1h-1zM389.7 123.8h1v1h-1zM420.0 143.4h1v1h-1zM423.3 120.4h1v1h-1zM412.3 132.5h1v1h-1zM425.0 115.5h1v1h-1zM425.7 133.6h1v1h-1zM424.1 128.7h1v1h-1zM442.7 123.2h1v1h-1zM436.7 138.9h1v1h-1zM376.3 131.0h1v1h-1zM411.9 136.2h1v1h-1zM419.6 137.6h1v1h-1zM427.9 136.2h1v1h-1zM418.9 129.7h1v1h-1zM425.2 146.7h1v1h-1zM418.6 130.2h1v1h-1zM425.3 140.4h1v1h-1zM411.5 152.8h1v1h-1zM406.6 124.3h1v1h-1zM378.1 159.6h1v1h-1zM441.7 140.3h1v1h-1zM400.5 131.6h1v1h-1zM442.8 121.6h1v1h-1zM417.5 162.9h1v1h-1zM427.9 126.7h1v1h-1zM416.5 136.6h1v1h-1zM426.9 138.2h1v1h-1zM477.1 127.5h1v1h-1zM423.0 114.7h1v1h-1zM438.7 144.3h1v1h-1zM425.5 140.8h1v1h-1zM418.3 132.4h1v1h-1zM421.5 135.2h1v1h-1zM414.6 154.4h1v1h-1zM436.7 133.6h1v1h-1zM402.8 120.4h1v1h-1zM407.4 142.8h1v1h-1zM433.0 127.9h1v1h-1zM449.7 138.4h1v1h-1zM426.2 139.3h1v1h-1zM433.9 118.1h1v1h-1zM418.1 137.5h1v1h-1zM409.2 131.1h1v1h-1zM412.3 132.3h1v1h-1zM412.2 140.6h1v1h-1zM425.8 144.1h1v1h-1zM449.9 147.4h1v1h-1zM428.3 140.5h1v1h-1zM423.4 141.9h1v1h-1zM415.2 118.5h1v1h-1zM416.2 126.0h1v1h-1zM443.2 132.3h1v1h-1zM439.5 149.2h1v1h-1zM430.8 134.3h1v1h-1zM448.4 128.7h1v1h-1zM422.1 132.7h1v1h-1zM423.1 128.9h1v1h-1zM429.0 129.4h1v1h-1zM434.7 131.8h1v1h-1zM424.1 130.9h1v1h-1zM406.2 136.9h1v1h-1zM434.2 154.0h1v1h-1zM433.7 123.6h1v1h-1zM441.5 137.6h1v1h-1zM430.5 150.9h1v1h-1zM421.7 126.0h1v1h-1zM438.8 121.6h1v1h-1zM412.7 140.5h1v1h-1zM408.2 139.7h1v1h-1zM405.5 149.2h1v1h-1zM442.5 157.2h1v1h-1zM451.8 145.4h1v1h-1zM420.5 118.6h1v1h-1zM410.4 128.2h1v1h-1zM420.9 136.3h1v1h-1zM420.6 121.3h1v1h-1zM448.7 144.9h1v1h-1zM425.9 139.7h1v1h-1zM423.0 152.7h1v1h-1zM416.9 127.7h1v1h-1zM422.6 128.6h1v1h-1zM414.6 138.4h1v1h-1zM420.8 139.2h1v1h-1zM419.2 126.4h1v1h-1zM415.3 118.3h1v1h-1zM423.8 136.8h1v1h-1zM416.7 136.1h1v1h-1zM431.2 135.0h1v1h-1zM429.8 163.6h1v1h-1zM450.3 129.1h1v1h-1zM426.8 132.4h1v1h-1zM424.0 139.6h1v1h-1zM419.3 136.8h1v1h-1zM435.6 142.9h1v1h-1zM451.3 137.5h1v1h-1zM427.2 132.0h1v1h-1zM418.1 130.0h1v1h-1zM393.5 160.2h1v1h-1zM437.4 128.5h1v1h-1zM435.2 128.0h1v1h-1zM421.4 145.6h1v1h-1zM411.5 124.7h1v1h-1zM423.9 139.2h1v1h-1zM442.5 148.7h1v1h-1zM417.6 136.6h1v1h-1zM448.6 134.2h1v1h-1zM424.9 134.9h1v1h-1zM428.6 120.2h1v1h-1zM446.4 159.5h1v1h-1zM423.0 116.7h1v1h-1zM407.0 133.6h1v1h-1zM430.2 137.7h1v1h-1zM418.7 146.6h1v1h-1zM415.5 140.8h1v1h-1zM426.1 142.8h1v1h-1zM410.8 143.2h1v1h-1zM463.4 112.7h1v1h-1zM395.9 116.3h1v1h-1zM367.5 136.3h1v1h-1zM427.1 124.2h1v1h-1zM418.4 139.7h1v1h-1zM432.5 126.0h1v1h-1zM434.4 140.8h1v1h-1zM413.2 136.4h1v1h-1zM411.5 164.2h1v1h-1zM416.7 135.2h1v1h-1zM425.8 126.6h1v1h-1zM404.7 142.2h1v1h-1zM425.7 125.8h1v1h-1zM390.4 143.5h1v1h-1zM417.3 142.8h1v1h-1zM406.2 143.8h1v1h-1zM451.6 120.9h1v1h-1zM405.5 139.8h1v1h-1zM422.8 132.9h1v1h-1zM433.2 133.1h1v1h-1zM424.8 102.6h1v1h-1zM407.6 130.3h1v1h-1zM423.6 144.8h1v1h-1zM439.7 137.3h1v1h-1zM423.1 120.4h1v1h-1zM430.5 136.9h1v1h-1zM444.3 131.9h1v1h-1zM429.4 134.8h1v1h-1zM451.4 133.7h1v1h-1zM421.8 116.0h1v1h-1zM413.0 124.8h1v1h-1zM437.7 137.3h1v1h-1zM420.8 127.4h1v1h-1zM424.9 152.2h1v1h-1zM426.7 136.0h1v1h-1zM425.9 145.2h1v1h-1zM457.4 140.9h1v1h-1zM387.6 140.0h1v1h-1zM414.5 128.9h1v1h-1zM424.9 129.8h1v1h-1zM397.9 146.9h1v1h-1zM437.9 128.9h1v1h-1zM470.3 126.9h1v1h-1zM418.0 129.6h1v1h-1zM394.6 145.7h1v1h-1zM441.5 145.2h1v1h-1zM435.9 132.2h1v1h-1zM410.7 133.4h1v1h-1zM420.4 142.8h1v1h-1zM419.7 127.1h1v1h-1zM411.9 125.5h1v1h-1zM411.1 142.6h1v1h-1zM403.1 152.2h1v1h-1zM398.8 152.9h1v1h-1zM408.4 141.2h1v1h-1zM435.6 143.0h1v1h-1zM421.2 140.4h1v1h-1zM416.4 146.3h1v1h-1zM414.1 146.5h1v1h-1zM460.2 144.3h1v1h-1zM410.8 134.4h1v1h-1zM448.5 150.9h1v1h-1zM419.3 125.1h1v1h-1zM397.5 135.1h1v1h-1zM448.4 136.3h1v1h-1zM419.0 146.1h1v1h-1zM395.6 135.0h1v1h-1zM413.2 149.7h1v1h-1zM421.0 118.4h1v1h-1zM451.2 129.4h1v1h-1zM469.1 136.2h1v1h-1zM413.3 118.4h1v1h-1zM422.3 120.3h1v1h-1zM405.4 131.7h1v1h-1zM416.6 139.2h1v1h-1zM409.9 138.0h1v1h-1zM443.4 128.7h1v1h-1zM466.0 135.9h1v1h-1zM429.7 138.4h1v1h-1zM408.2 138.7h1v1h-1zM424.5 132.2h1v1h-1zM349.1 157.0h1v1h-1zM391.9 127.5h1v1h-1zM416.6 122.6h1v1h-1zM391.9 145.7h1v1h-1zM474.0 124.6h1v1h-1zM416.9 132.5h1v1h-1zM440.6 130.0h1v1h-1zM398.1 134.6h1v1h-1zM423.4 131.6h1v1h-1zM436.4 113.4h1v1h-1zM421.1 133.5h1v1h-1zM424.7 143.4h1v1h-1zM410.0 128.6h1v1h-1zM430.3 125.1h1v1h-1zM395.5 116.5h1v1h-1zM458.5 148.1h1v1h-1zM427.6 138.1h1v1h-1zM432.6 119.0h1v1h-1zM420.1 164.1h1v1h-1zM422.2 125.2h1v1h-1zM420.3 144.7h1v1h-1zM419.8 118.8h1v1h-1zM407.4 128.0h1v1h-1zM426.4 122.5h1v1h-1zM408.4 123.3h1v1h-1zM428.1 118.4h1v1h-1zM383.7 135.5h1v1h-1zM426.1 137.4h1v1h-1zM411.9 139.8h1v1h-1zM431.9 145.1h1v1h-1zM427.5 121.7h1v1h-1zM445.6 127.0h1v1h-1zM436.1 129.7h1v1h-1zM425.7 142.9h1v1h-1zM407.2 134.6h1v1h-1zM415.6 159.5h1v1h-1zM421.5 142.9h1v1h-1zM418.9 124.6h1v1h-1zM392.1 142.4h1v1h-1zM446.6 141.0h1v1h-1zM427.2 116.3h1v1h-1zM433.0 122.7h1v1h-1zM421.8 136.6h1v1h-1zM440.7 135.5h1v1h-1zM431.6 111.3h1v1h-1zM423.0 138.6h1v1h-1zM427.7 134.1h1v1h-1zM439.3 118.0h1v1h-1zM427.2 141.5h1v1h-1zM470.8 150.7h1v1h-1zM424.9 141.7h1v1h-1zM420.8 134.0h1v1h-1zM390.6 152.2h1v1h-1zM424.2 134.3h1v1h-1zM342.8 126.2h1v1h-1zM421.0 137.2h1v1h-1zM426.0 135.1h1v1h-1zM413.9 135.2h1v1h-1zM439.3 117.8h1v1h-1zM410.0 149.4h1v1h-1zM422.9 143.3h1v1h-1zM424.5 137.1h1v1h-1zM477.6 136.0h1v1h-1zM405.8 144.5h1v1h-1zM394.1 147.2h1v1h-1zM442.1 138.6h1v1h-1zM371.5 142.0h1v1h-1zM447.4 133.4h1v1h-1zM441.4 129.3h1v1h-1zM441.5 131.7h1v1h-1zM456.2 155.4h1v1h-1zM419.3 125.9h1v1h-1zM495.8 145.3h1v1h-1zM395.1 156.3h1v1h-1zM415.5 126.2h1v1h-1zM435.7 130.8h1v1h-1zM413.7 129.9h1v1h-1zM427.6 132.3h1v1h-1zM415.8 127.9h1v1h-1zM424.6 157.9h1v1h-1zM428.2 119.4h1v1h-1zM434.8 128.8h1v1h-1zM422.5 129.7h1v1h-1zM397.8 145.5h1v1h-1zM397.0 134.3h1v1h-1zM417.5 120.8h1v1h-1zM425.5 146.3h1v1h-1zM425.2 126.7h1v1h-1zM432.7 138.7h1v1h-1zM443.6 148.1h1v1h-1zM423.4 139.9h1v1h-1zM408.5 122.2h1v1h-1zM423.8 136.0h1v1h-1zM424.4 139.1h1v1h-1zM461.7 133.6h1v1h-1zM425.0 119.3h1v1h-1zM421.4 127.8h1v1h-1zM462.3 132.0h1v1h-1zM430.2 119.9h1v1h-1zM424.5 139.4h1v1h-1zM422.2 131.9h1v1h-1zM434.0 137.0h1v1h-1zM465.4 131.4h1v1h-1zM426.5 140.9h1v1h-1zM425.7 145.4h1v1h-1zM415.6 158.1h1v1h-1zM435.9 123.5h1v1h-1zM422.1 143.2h1v1h-1zM421.9 152.0h1v1h-1zM410.8 150.8h1v1h-1zM404.5 119.1h1v1h-1zM392.0 139.3h1v1h-1zM412.3 137.8h1v1h-1zM434.8 139.2h1v1h-1zM440.2 129.1h1v1h-1zM441.0 132.9h1v1h-1zM448.3 132.9h1v1h-1zM422.7 113.1h1v1h-1zM442.5 139.9h1v1h-1zM426.9 147.1h1v1h-1zM411.8 110.3h1v1h-1zM418.6 133.1h1v1h-1zM398.6 131.6h1v1h-1zM427.0 136.5h1v1h-1zM453.4 136.4h1v1h-1zM397.7 134.3h1v1h-1zM412.9 122.2h1v1h-1zM421.1 142.2h1v1h-1zM425.0 161.6h1v1h-1zM427.4 125.6h1v1h-1zM441.3 153.2h1v1h-1zM422.8 133.0h1v1h-1zM391.6 125.6h1v1h-1zM417.8 132.7h1v1h-1zM421.0 140.2h1v1h-1zM417.4 144.7h1v1h-1zM407.2 137.9h1v1h-1zM403.5 132.6h1v1h-1zM425.4 134.9h1v1h-1zM423.8 117.3h1v1h-1zM420.1 119.0h1v1h-1zM420.1 133.3h1v1h-1zM410.2 135.7h1v1h-1zM371.0 134.2h1v1h-1zM407.1 137.6h1v1h-1zM432.7 139.4h1v1h-1zM426.5 121.9h1v1h-1zM425.0 149.2h1v1h-1zM433.0 136.3h1v1h-1zM415.3 140.6h1v1h-1zM424.7 139.8h1v1h-1zM417.3 132.9h1v1h-1zM425.0 137.1h1v1h-1zM428.3 139.3h1v1h-1zM420.8 142.0h1v1h-1zM469.3 131.6h1v1h-1zM355.6 147.0h1v1h-1zM389.6 137.0h1v1h-1zM413.2 145.9h1v1h-1zM422.1 137.4h1v1h-1zM418.2 136.7h1v1h-1zM419.4 150.6h1v1h-1zM409.5 136.4h1v1h-1zM397.7 135.3h1v1h-1zM437.2 136.1h1v1h-1zM447.2 136.8h1v1h-1zM421.0 137.4h1v1h-1zM446.1 137.9h1v1h-1zM424.1 115.7h1v1h-1zM420.1 151.9h1v1h-1zM425.0 128.6h1v1h-1zM440.6 134.8h1v1h-1zM459.6 120.8h1v1h-1zM414.7 124.3h1v1h-1zM422.4 124.2h1v1h-1zM419.3 129.0h1v1h-1zM436.6 140.2h1v1h-1zM447.7 121.1h1v1h-1zM468.9 145.0h1v1h-1zM440.2 122.6h1v1h-1zM418.0 161.6h1v1h-1zM431.8 130.8h1v1h-1zM435.6 139.7h1v1h-1zM438.3 132.5h1v1h-1zM426.7 131.5h1v1h-1zM421.5 140.0h1v1h-1zM416.9 132.9h1v1h-1zM471.3 152.5h1v1h-1zM415.9 136.0h1v1h-1zM421.8 141.2h1v1h-1zM425.7 126.7h1v1h-1zM412.4 131.0h1v1h-1zM430.4 112.4h1v1h-1zM387.0 130.2h1v1h-1zM422.6 142.9h1v1h-1zM429.2 147.1h1v1h-1zM424.0 130.4h1v1h-1zM376.6 134.7h1v1h-1zM438.6 138.9h1v1h-1zM415.1 127.1h1v1h-1zM433.9 126.0h1v1h-1zM429.5 121.1h1v1h-1zM457.9 142.2h1v1h-1zM420.8 145.7h1v1h-1zM409.9 123.2h1v1h-1zM473.7 138.7h1v1h-1zM426.9 113.6h1v1h-1zM425.3 132.2h1v1h-1zM431.0 133.4h1v1h-1zM383.6 130.1h1v1h-1zM439.0 135.6h1v1h-1zM445.2 126.8h1v1h-1zM444.9 131.8h1v1h-1zM435.1 119.8h1v1h-1zM418.9 136.4h1v1h-1zM430.2 133.4h1v1h-1zM390.2 147.9h1v1h-1zM451.1 158.6h1v1h-1zM407.6 148.7h1v1h-1zM451.8 131.7h1v1h-1zM448.6 119.0h1v1h-1zM411.9 126.6h1v1h-1zM425.7 126.3h1v1h-1zM424.6 152.2h1v1h-1zM410.3 134.0h1v1h-1zM447.1 137.4h1v1h-1zM412.9 116.5h1v1h-1zM455.8 144.9h1v1h-1zM438.0 125.4h1v1h-1zM437.8 139.1h1v1h-1zM440.8 139.8h1v1h-1zM421.5 133.9h1v1h-1zM438.7 141.0h1v1h-1zM365.5 136.3h1v1h-1zM425.3 139.0h1v1h-1zM474.8 138.1h1v1h-1zM418.4 138.1h1v1h-1zM423.1 131.3h1v1h-1zM376.1 125.0h1v1h-1zM415.7 133.8h1v1h-1zM398.5 126.9h1v1h-1zM424.6 128.7h1v1h-1zM432.8 134.2h1v1h-1zM421.7 138.8h1v1h-1zM422.3 140.9h1v1h-1zM399.5 148.6h1v1h-1zM410.9 124.3h1v1h-1zM384.8 136.6h1v1h-1zM415.2 129.1h1v1h-1zM402.9 131.4h1v1h-1zM398.5 123.4h1v1h-1zM425.2 139.8h1v1h-1zM433.7 156.6h1v1h-1zM433.4 152.1h1v1h-1zM434.4 139.7h1v1h-1zM381.0 146.5h1v1h-1zM446.3 134.5h1v1h-1zM425.7 137.0h1v1h-1zM423.9 141.3h1v1h-1zM420.0 152.6h1v1h-1zM438.5 130.4h1v1h-1zM423.4 156.1h1v1h-1zM456.1 143.6h1v1h-1zM379.1 130.8h1v1h-1zM445.5 152.8h1v1h-1zM415.7 146.7h1v1h-1zM441.6 128.1h1v1h-1zM386.7 135.4h1v1h-1zM398.8 136.0h1v1h-1zM408.1 138.4h1v1h-1zM398.6 141.3h1v1h-1zM427.7 148.7h1v1h-1zM382.6 133.4h1v1h-1zM413.8 124.0h1v1h-1zM401.6 137.8h1v1h-1zM408.8 135.0h1v1h-1zM461.6 136.6h1v1h-1zM411.1 141.9h1v1h-1zM404.7 130.8h1v1h-1zM410.9 136.2h1v1h-1zM427.1 145.5h1v1h-1zM409.0 142.7h1v1h-1zM440.9 147.1h1v1h-1zM422.1 132.9h1v1h-1zM426.0 123.5h1v1h-1zM422.2 137.0h1v1h-1zM412.2 101.0h1v1h-1zM385.4 156.8h1v1h-1zM404.2 145.4h1v1h-1zM394.4 122.3h1v1h-1zM420.5 131.0h1v1h-1zM419.0 120.1h1v1h-1zM417.5 137.5h1v1h-1zM362.8 123.8h1v1h-1zM428.4 136.1h1v1h-1zM417.1 114.4h1v1h-1zM423.5 154.8h1v1h-1zM411.9 136.3h1v1h-1zM432.0 132.1h1v1h-1zM371.8 138.0h1v1h-1zM407.4 159.6h1v1h-1zM464.6 144.9h1v1h-1zM418.3 146.7h1v1h-1zM442.8 144.0h1v1h-1zM405.5 124.1h1v1h-1zM417.1 136.8h1v1h-1zM407.8 145.1h1v1h-1zM405.3 135.3h1v1h-1zM411.7 139.8h1v1h-1zM411.0 127.1h1v1h-1zM462.4 134.3h1v1h-1zM419.0 131.5h1v1h-1zM414.5 152.8h1v1h-1zM429.9 136.3h1v1h-1zM421.8 149.8h1v1h-1zM428.5 151.9h1v1h-1zM387.4 149.0h1v1h-1zM440.1 136.4h1v1h-1zM425.1 140.1h1v1h-1zM410.6 136.5h1v1h-1zM423.7 159.4h1v1h-1zM430.4 137.3h1v1h-1zM430.6 142.3h1v1h-1zM391.9 138.9h1v1h-1zM464.8 138.2h1v1h-1zM390.1 119.7h1v1h-1zM407.8 133.4h1v1h-1zM422.7 120.6h1v1h-1zM418.4 131.1h1v1h-1zM421.7 135.2h1v1h-1zM413.3 156.5h1v1h-1zM432.4 137.8h1v1h-1zM430.4 133.7h1v1h-1zM435.9 142.1h1v1h-1zM444.4 135.0h1v1h-1zM434.9 142.3h1v1h-1zM427.2 141.5h1v1h-1zM463.0 122.9h1v1h-1zM422.3 127.5h1v1h-1zM420.0 135.4h1v1h-1zM433.6 142.1h1v1h-1zM407.7 142.6h1v1h-1zM400.8 145.0h1v1h-1zM416.0 124.5h1v1h-1zM439.9 146.2h1v1h-1zM409.5 141.1h1v1h-1zM418.4 151.5h1v1h-1zM444.7 159.8h1v1h-1zM423.9 136.1h1v1h-1zM427.6 132.0h1v1h-1zM440.6 144.3h1v1h-1zM420.2 134.1h1v1h-1zM428.3 135.7h1v1h-1zM417.1 143.2h1v1h-1zM419.3 137.4h1v1h-1zM437.8 129.0h1v1h-1zM425.8 143.0h1v1h-1zM473.0 156.5h1v1h-1zM410.1 137.6h1v1h-1zM426.3 122.7h1v1h-1zM457.1 152.7h1v1h-1zM476.2 135.2h1v1h-1zM424.6 153.4h1v1h-1zM424.7 119.9h1v1h-1zM414.4 126.9h1v1h-1zM458.6 140.9h1v1h-1zM436.5 152.7h1v1h-1zM439.3 132.1h1v1h-1zM440.9 146.3h1v1h-1zM408.5 134.0h1v1h-1zM448.2 141.0h1v1h-1zM440.9 141.3h1v1h-1zM374.9 142.7h1v1h-1zM473.5 139.9h1v1h-1zM430.8 123.6h1v1h-1zM422.9 154.4h1v1h-1zM439.4 128.6h1v1h-1zM436.7 132.4h1v1h-1zM429.3 126.0h1v1h-1zM415.8 163.9h1v1h-1zM451.2 144.6h1v1h-1zM416.4 127.1h1v1h-1zM397.1 119.9h1v1h-1zM420.1 143.7h1v1h-1zM443.3 135.7h1v1h-1zM395.7 146.1h1v1h-1zM420.6 138.6h1v1h-1zM423.2 136.7h1v1h-1zM369.7 141.4h1v1h-1zM412.2 133.1h1v1h-1zM455.4 135.5h1v1h-1zM418.8 135.2h1v1h-1zM405.2 134.8h1v1h-1zM429.9 134.7h1v1h-1zM402.2 131.9h1v1h-1zM419.5 149.8h1v1h-1zM422.5 137.8h1v1h-1zM448.5 144.3h1v1h-1zM436.3 136.1h1v1h-1zM421.7 133.7h1v1h-1zM434.2 125.0h1v1h-1zM419.5 138.1h1v1h-1zM427.1 127.9h1v1h-1zM425.7 138.2h1v1h-1zM450.4 131.7h1v1h-1zM424.4 135.2h1v1h-1zM417.5 137.4h1v1h-1zM414.0 139.3h1v1h-1zM441.3 129.6h1v1h-1zM421.8 144.3h1v1h-1zM433.6 122.2h1v1h-1zM414.3 112.3h1v1h-1zM446.1 129.5h1v1h-1zM438.3 148.5h1v1h-1zM408.0 134.8h1v1h-1zM422.5 139.0h1v1h-1zM394.2 131.1h1v1h-1zM421.1 146.7h1v1h-1zM423.0 142.4h1v1h-1zM417.7 134.4h1v1h-1zM416.0 125.5h1v1h-1zM425.5 141.2h1v1h-1zM422.0 130.6h1v1h-1zM409.3 123.9h1v1h-1zM442.8 147.8h1v1h-1zM425.2 122.2h1v1h-1zM419.0 121.7h1v1h-1zM366.2 132.8h1v1h-1zM441.1 135.5h1v1h-1zM393.0 135.9h1v1h-1zM437.8 161.8h1v1h-1zM427.5 121.5h1v1h-1zM469.3 132.0h1v1h-1zM431.2 135.0h1v1h-1zM423.3 124.0h1v1h-1zM401.9 133.5h1v1h-1zM430.8 134.8h1v1h-1zM440.5 139.6h1v1h-1zM394.6 152.6h1v1h-1zM399.3 111.1h1v1h-1zM446.9 147.1h1v1h-1zM427.9 137.1h1v1h-1zM387.7 138.2h1v1h-1zM408.9 124.5h1v1h-1zM393.4 132.8h1v1h-1zM470.7 127.3h1v1h-1zM429.4 124.7h1v1h-1zM444.1 128.8h1v1h-1zM409.5 141.6h1v1h-1zM423.7 138.0h1v1h-1zM435.5 145.0h1v1h-1zM414.0 135.8h1v1h-1zM414.9 137.7h1v1h-1zM449.8 135.1h1v1h-1zM419.7 134.5h1v1h-1zM382.8 139.4h1v1h-1zM434.6 141.7h1v1h-1zM406.6 143.9h1v1h-1zM392.4 135.5h1v1h-1zM419.9 155.7h1v1h-1zM412.5 143.0h1v1h-1zM420.9 122.2h1v1h-1zM425.7 128.1h1v1h-1zM415.1 135.5h1v1h-1zM398.6 147.7h1v1h-1zM411.6 142.2h1v1h-1zM419.4 155.9h1v1h-1zM366.3 147.8h1v1h-1zM418.6 114.0h1v1h-1zM413.2 141.0h1v1h-1zM392.4 134.7h1v1h-1zM420.8 132.3h1v1h-1zM429.0 144.6h1v1h-1zM424.9 143.6h1v1h-1zM412.7 140.6h1v1h-1zM446.0 130.6h1v1h-1zM433.3 141.4h1v1h-1zM412.9 136.6h1v1h-1zM475.8 135.1h1v1h-1zM429.8 127.2h1v1h-1zM454.1 136.4h1v1h-1zM430.2 110.2h1v1h-1zM411.1 161.4h1v1h-1zM408.4 122.7h1v1h-1zM417.1 142.8h1v1h-1zM439.6 135.0h1v1h-1zM408.8 131.1h1v1h-1zM430.4 139.7h1v1h-1zM439.1 134.9h1v1h-1zM431.0 135.9h1v1h-1zM424.6 138.7h1v1h-1zM428.7 134.5h1v1h-1zM423.8 138.0h1v1h-1zM421.1 138.1h1v1h-1zM428.2 161.0h1v1h-1zM400.8 140.8h1v1h-1zM422.9 119.4h1v1h-1zM431.9 143.7h1v1h-1zM424.1 137.5h1v1h-1zM423.2 137.0h1v1h-1zM421.8 144.0h1v1h-1zM416.6 132.7h1v1h-1zM428.0 141.6h1v1h-1zM342.6 137.5h1v1h-1zM399.3 141.0h1v1h-1zM400.1 141.1h1v1h-1zM409.4 126.8h1v1h-1zM393.4 141.8h1v1h-1zM426.1 141.9h1v1h-1zM395.0 131.5h1v1h-1zM410.6 132.5h1v1h-1zM471.2 139.2h1v1h-1zM426.7 149.4h1v1h-1zM351.6 132.7h1v1h-1zM448.3 134.5h1v1h-1zM470.1 141.8h1v1h-1zM421.0 143.2h1v1h-1zM437.0 125.6h1v1h-1zM422.1 136.9h1v1h-1zM455.6 131.0h1v1h-1zM424.8 127.1h1v1h-1zM422.9 133.9h1v1h-1zM428.5 134.0h1v1h-1zM446.0 130.8h1v1h-1zM397.9 135.5h1v1h-1zM416.9 119.4h1v1h-1zM449.4 141.0h1v1h-1zM422.1 138.1h1v1h-1zM455.5 147.1h1v1h-1zM451.6 162.7h1v1h-1zM407.6 132.5h1v1h-1zM387.2 141.5h1v1h-1zM419.1 138.1h1v1h-1zM477.8 144.5h1v1h-1zM427.2 115.2h1v1h-1zM441.1 133.8h1v1h-1zM433.6 157.8h1v1h-1zM412.2 142.9h1v1h-1zM457.3 155.5h1v1h-1zM433.9 129.0h1v1h-1zM411.1 134.5h1v1h-1zM417.7 139.3h1v1h-1zM425.5 130.8h1v1h-1zM436.2 130.4h1v1h-1zM411.5 139.8h1v1h-1zM418.0 146.5h1v1h-1zM415.1 142.9h1v1h-1zM412.4 147.9h1v1h-1zM406.5 113.8h1v1h-1zM406.1 138.6h1v1h-1zM424.9 132.8h1v1h-1zM412.4 116.2h1v1h-1zM421.9 138.6h1v1h-1zM440.7 131.6h1v1h-1zM422.4 135.0h1v1h-1zM434.6 132.1h1v1h-1zM426.2 129.2h1v1h-1zM462.1 133.5h1v1h-1zM420.8 137.4h1v1h-1zM420.8 143.0h1v1h-1zM433.0 147.1h1v1h-1zM415.1 158.1h1v1h-1zM419.3 133.6h1v1h-1zM395.9 131.2h1v1h-1zM414.3 157.9h1v1h-1zM420.1 135.3h1v1h-1zM445.0 127.1h1v1h-1zM445.0 142.1h1v1h-1zM427.8 137.6h1v1h-1zM429.5 146.4h1v1h-1zM463.9 141.9h1v1h-1zM397.3 138.9h1v1h-1zM417.2 142.3h1v1h-1zM412.5 138.2h1v1h-1zM414.8 135.2h1v1h-1zM423.6 145.2h1v1h-1zM420.1 142.5h1v1h-1zM501.6 133.6h1v1h-1zM427.4 131.4h1v1h-1zM424.6 136.6h1v1h-1zM351.9 140.1h1v1h-1zM428.0 145.4h1v1h-1zM436.2 133.1h1v1h-1zM425.6 141.6h1v1h-1zM407.0 146.2h1v1h-1zM399.6 137.0h1v1h-1zM427.7 143.4h1v1h-1zM430.1 131.6h1v1h-1zM426.2 131.1h1v1h-1zM421.3 119.0h1v1h-1zM407.0 125.3h1v1h-1zM398.2 145.5h1v1h-1zM421.0 135.3h1v1h-1zM476.9 139.2h1v1h-1zM413.4 134.9h1v1h-1zM434.5 144.2h1v1h-1zM412.8 131.2h1v1h-1zM422.8 133.3h1v1h-1zM446.8 133.6h1v1h-1zM435.5 131.6h1v1h-1zM397.3 132.7h1v1h-1zM403.5 125.5h1v1h-1zM430.3 124.8h1v1h-1zM396.7 127.0h1v1h-1zM439.0 138.7h1v1h-1zM417.1 135.7h1v1h-1zM448.5 139.5h1v1h-1zM425.3 141.7h1v1h-1zM426.9 135.6h1v1h-1zM388.9 118.8h1v1h-1zM428.7 139.2h1v1h-1zM404.4 133.2h1v1h-1zM417.3 154.8h1v1h-1zM432.0 148.6h1v1h-1zM434.4 155.8h1v1h-1zM416.2 147.3h1v1h-1zM401.5 134.8h1v1h-1zM408.5 138.0h1v1h-1zM418.2 146.5h1v1h-1zM419.4 134.9h1v1h-1zM434.6 142.1h1v1h-1zM419.3 132.8h1v1h-1zM461.3 155.8h1v1h-1zM417.3 133.7h1v1h-1zM427.8 140.0h1v1h-1zM412.3 133.3h1v1h-1zM433.2 136.5h1v1h-1zM433.0 148.8h1v1h-1zM435.7 134.5h1v1h-1zM364.3 112.2h1v1h-1zM417.8 146.0h1v1h-1zM422.0 137.7h1v1h-1zM414.8 133.1h1v1h-1zM434.6 136.9h1v1h-1zM425.4 119.2h1v1h-1zM419.7 132.2h1v1h-1zM437.6 133.2h1v1h-1zM408.7 120.2h1v1h-1zM439.9 134.7h1v1h-1zM417.2 135.8h1v1h-1zM427.4 137.5h1v1h-1zM406.7 132.2h1v1h-1zM427.6 134.5h1v1h-1zM449.4 136.2h1v1h-1zM390.0 126.2h1v1h-1zM413.0 122.3h1v1h-1zM422.4 146.1h1v1h-1zM449.1 146.3h1v1h-1zM407.0 133.1h1v1h-1zM404.2 137.2h1v1h-1zM429.0 142.7h1v1h-1zM406.4 128.9h1v1h-1zM433.9 150.7h1v1h-1zM422.2 143.6h1v1h-1zM418.7 137.7h1v1h-1zM423.3 140.9h1v1h-1zM435.2 137.9h1v1h-1zM437.7 139.5h1v1h-1zM386.6 144.3h1v1h-1zM422.7 126.5h1v1h-1zM462.3 153.4h1v1h-1zM437.7 129.2h1v1h-1zM398.0 133.8h1v1h-1zM377.9 127.9h1v1h-1zM416.1 132.0h1v1h-1zM450.6 138.8h1v1h-1zM421.3 131.7h1v1h-1zM434.2 144.3h1v1h-1zM431.4 139.6h1v1h-1zM426.1 140.7h1v1h-1zM413.7 149.2h1v1h-1zM407.2 139.7h1v1h-1zM418.8 127.4h1v1h-1zM428.6 139.2h1v1h-1zM391.9 133.5h1v1h-1zM411.2 146.3h1v1h-1zM418.2 149.1h1v1h-1zM449.4 120.7h1v1h-1zM426.7 137.4h1v1h-1zM412.6 139.3h1v1h-1zM431.0 136.9h1v1h-1zM420.8 140.9h1v1h-1zM414.5 142.6h1v1h-1zM394.4 127.5h1v1h-1zM380.5 144.9h1v1h-1zM405.5 138.5h1v1h-1zM422.6 137.9h1v1h-1zM422.2 120.8h1v1h-1zM433.8 136.0h1v1h-1zM427.4 149.2h1v1h-1zM425.4 152.9h1v1h-1zM417.4 141.1h1v1h-1zM446.7 138.0h1v1h-1zM417.7 131.5h1v1h-1zM427.4 135.4h1v1h-1zM440.8 133.3h1v1h-1zM459.7 134.0h1v1h-1zM410.9 110.0h1v1h-1zM422.2 116.5h1v1h-1zM482.2 138.5h1v1h-1zM438.8 141.4h1v1h-1zM391.6 125.4h1v1h-1zM421.1 126.9h1v1h-1zM423.8 125.2h1v1h-1zM417.2 136.4h1v1h-1zM418.3 132.9h1v1h-1zM423.9 125.6h1v1h-1zM439.0 116.8h1v1h-1zM412.2 130.3h1v1h-1zM430.9 113.9h1v1h-1zM476.7 130.4h1v1h-1zM431.2 120.7h1v1h-1zM407.3 118.4h1v1h-1zM420.9 123.8h1v1h-1zM430.4 140.7h1v1h-1zM458.4 137.1h1v1h-1zM415.2 144.1h1v1h-1zM460.6 125.5h1v1h-1zM421.8 140.4h1v1h-1zM398.0 134.8h1v1h-1zM424.9 137.4h1v1h-1zM407.9 142.8h1v1h-1zM421.2 131.1h1v1h-1zM417.7 143.0h1v1h-1zM411.5 132.9h1v1h-1zM393.0 140.7h1v1h-1zM409.9 126.4h1v1h-1zM426.7 135.8h1v1h-1zM437.0 129.2h1v1h-1zM422.0 132.5h1v1h-1zM425.4 125.2h1v1h-1zM427.9 128.3h1v1h-1zM352.5 133.5h1v1h-1zM421.3 150.1h1v1h-1zM422.2 139.8h1v1h-1zM415.7 146.6h1v1h-1zM418.0 137.7h1v1h-1zM424.2 163.0h1v1h-1zM431.1 134.1h1v1h-1zM431.4 129.8h1v1h-1zM498.7 135.7h1v1h-1zM419.3 146.7h1v1h-1zM396.0 117.1h1v1h-1zM433.4 128.2h1v1h-1zM394.9 137.6h1v1h-1zM389.3 141.5h1v1h-1zM412.1 146.7h1v1h-1zM418.7 114.6h1v1h-1zM427.3 135.9h1v1h-1zM447.2 163.5h1v1h-1zM415.6 136.2h1v1h-1zM414.0 128.6h1v1h-1zM419.2 134.0h1v1h-1zM416.4 154.5h1v1h-1zM401.3 144.4h1v1h-1zM435.7 134.6h1v1h-1zM428.2 134.5h1v1h-1zM404.6 128.2h1v1h-1zM397.8 135.6h1v1h-1zM434.3 139.4h1v1h-1zM440.2 123.2h1v1h-1zM432.7 123.9h1v1h-1zM462.2 150.1h1v1h-1zM402.7 138.0h1v1h-1zM413.1 134.2h1v1h-1zM408.2 150.3h1v1h-1zM420.6 136.6h1v1h-1zM423.2 124.4h1v1h-1zM415.3 148.9h1v1h-1zM427.7 127.5h1v1h-1zM431.2 139.3h1v1h-1zM394.1 125.8h1v1h-1zM451.3 128.6h1v1h-1zM374.6 131.5h1v1h-1zM412.9 135.1h1v1h-1zM415.6 141.9h1v1h-1zM448.2 137.0h1v1h-1zM454.9 135.6h1v1h-1zM440.3 126.6h1v1h-1zM396.7 139.7h1v1h-1zM430.8 127.6h1v1h-1zM417.3 158.4h1v1h-1zM461.0 140.8h1v1h-1zM408.5 132.9h1v1h-1zM404.8 137.4h1v1h-1zM401.3 136.3h1v1h-1zM398.8 147.2h1v1h-1zM402.5 127.9h1v1h-1zM376.1 138.4h1v1h-1zM470.0 149.8h1v1h-1zM395.0 112.7h1v1h-1zM412.0 135.5h1v1h-1zM420.8 140.3h1v1h-1zM417.4 137.4h1v1h-1zM382.6 143.4h1v1h-1zM394.1 130.0h1v1h-1zM413.3 138.1h1v1h-1zM398.0 155.8h1v1h-1zM392.5 135.1h1v1h-1zM417.7 126.2h1v1h-1zM428.4 128.1h1v1h-1zM421.3 117.3h1v1h-1zM405.3 145.5h1v1h-1zM420.0 123.6h1v1h-1zM429.5 114.5h1v1h-1zM448.7 141.0h1v1h-1zM416.9 137.5h1v1h-1zM382.1 136.8h1v1h-1zM424.8 141.1h1v1h-1zM391.8 127.6h1v1h-1zM423.0 134.1h1v1h-1zM442.7 129.5h1v1h-1zM391.4 138.9h1v1h-1zM428.8 138.0h1v1h-1zM432.5 153.0h1v1h-1zM429.1 159.8h1v1h-1zM424.5 119.1h1v1h-1zM434.0 135.1h1v1h-1zM456.0 132.0h1v1h-1zM411.0 157.8h1v1h-1zM417.9 138.9h1v1h-1zM450.7 115.3h1v1h-1zM438.0 137.6h1v1h-1zM439.2 140.5h1v1h-1zM418.6 132.0h1v1h-1zM415.0 141.4h1v1h-1zM443.5 136.8h1v1h-1zM417.8 140.6h1v1h-1zM438.9 131.8h1v1h-1zM422.4 143.4h1v1h-1zM445.4 126.8h1v1h-1zM438.9 159.8h1v1h-1zM429.6 132.8h1v1h-1zM406.9 136.5h1v1h-1zM446.9 138.3h1v1h-1zM432.4 129.5h1v1h-1zM403.3 145.4h1v1h-1zM416.2 132.2h1v1h-1zM411.1 133.8h1v1h-1zM422.2 135.7h1v1h-1zM438.6 132.1h1v1h-1zM418.7 134.3h1v1h-1zM468.2 123.9h1v1h-1zM409.6 123.8h1v1h-1zM420.3 126.5h1v1h-1zM407.9 142.9h1v1h-1zM427.5 135.9h1v1h-1zM441.5 123.0h1v1h-1zM429.0 143.2h1v1h-1zM418.1 129.0h1v1h-1zM436.6 135.3h1v1h-1zM410.4 143.6h1v1h-1zM438.8 130.1h1v1h-1zM447.0 141.7h1v1h-1zM413.8 139.4h1v1h-1zM405.3 126.7h1v1h-1zM408.0 122.2h1v1h-1zM418.4 128.3h1v1h-1zM355.8 132.4h1v1h-1zM418.1 143.3h1v1h-1zM415.3 134.9h1v1h-1zM372.8 133.5h1v1h-1zM428.3 112.3h1v1h-1zM445.7 133.5h1v1h-1zM419.6 139.3h1v1h-1zM399.0 116.6h1v1h-1zM403.4 133.2h1v1h-1zM425.8 134.9h1v1h-1zM429.9 140.7h1v1h-1zM410.3 130.1h1v1h-1zM434.9 139.6h1v1h-1zM436.2 130.1h1v1h-1zM419.2 128.0h1v1h-1zM419.4 154.6h1v1h-1zM420.1 137.2h1v1h-1zM430.1 132.0h1v1h-1zM420.2 140.7h1v1h-1zM426.7 135.6h1v1h-1zM430.1 134.6h1v1h-1zM376.4 142.2h1v1h-1zM393.2 139.1h1v1h-1zM433.2 132.5h1v1h-1zM427.1 135.8h1v1h-1zM457.5 137.9h1v1h-1zM405.6 123.3h1v1h-1zM409.4 139.5h1v1h-1zM421.8 132.2h1v1h-1zM415.4 139.0h1v1h-1zM448.6 130.6h1v1h-1zM429.0 137.8h1v1h-1zM422.2 126.4h1v1h-1zM426.7 162.7h1v1h-1zM412.0 143.9h1v1h-1zM412.0 131.1h1v1h-1zM428.4 140.5h1v1h-1zM435.0 134.7h1v1h-1zM402.9 138.4h1v1h-1zM388.5 134.8h1v1h-1zM430.4 140.9h1v1h-1zM412.7 141.9h1v1h-1zM415.5 141.8h1v1h-1zM426.4 122.2h1v1h-1zM412.8 133.2h1v1h-1zM419.3 113.7h1v1h-1zM421.2 139.4h1v1h-1zM427.5 140.6h1v1h-1zM422.0 130.4h1v1h-1zM401.7 124.2h1v1h-1zM421.1 123.3h1v1h-1zM422.8 149.9h1v1h-1zM403.3 135.0h1v1h-1zM439.5 157.6h1v1h-1zM407.1 141.8h1v1h-1zM436.5 139.4h1v1h-1zM424.6 143.0h1v1h-1zM434.7 140.7h1v1h-1zM428.9 140.9h1v1h-1zM443.1 130.2h1v1h-1zM409.8 135.7h1v1h-1zM421.0 159.8h1v1h-1zM454.8 115.5h1v1h-1zM395.7 141.1h1v1h-1zM432.5 138.3h1v1h-1zM425.4 115.0h1v1h-1zM415.0 136.6h1v1h-1zM440.3 122.8h1v1h-1zM421.9 140.6h1v1h-1zM412.8 143.5h1v1h-1zM429.9 135.2h1v1h-1zM403.5 107.0h1v1h-1zM417.4 137.0h1v1h-1zM465.7 144.6h1v1h-1zM451.9 134.9h1v1h-1zM420.6 129.5h1v1h-1zM388.1 133.5h1v1h-1zM432.6 139.0h1v1h-1zM427.2 143.5h1v1h-1zM425.7 147.0h1v1h-1zM415.8 131.6h1v1h-1zM484.1 148.7h1v1h-1zM415.0 134.4h1v1h-1zM441.1 102.3h1v1h-1zM434.5 137.3h1v1h-1zM487.7 136.0h1v1h-1zM426.7 135.2h1v1h-1zM397.0 132.6h1v1h-1zM358.3 122.8h1v1h-1zM405.1 143.2h1v1h-1zM420.7 118.9h1v1h-1zM397.0 134.2h1v1h-1zM484.9 130.8h1v1h-1zM428.0 140.3h1v1h-1zM446.9 125.5h1v1h-1zM376.9 133.2h1v1h-1zM422.1 132.3h1v1h-1zM407.2 113.3h1v1h-1zM408.4 134.3h1v1h-1zM411.2 138.4h1v1h-1zM425.7 116.9h1v1h-1zM426.3 120.9h1v1h-1zM407.4 136.2h1v1h-1zM400.1 139.1h1v1h-1zM412.7 149.4h1v1h-1zM439.5 132.7h1v1h-1zM414.4 131.6h1v1h-1zM418.0 142.8h1v1h-1zM415.6 142.4h1v1h-1zM454.1 148.3h1v1h-1zM410.6 137.4h1v1h-1zM429.5 135.8h1v1h-1zM421.9 122.5h1v1h-1zM429.4 147.7h1v1h-1zM441.6 132.4h1v1h-1zM384.0 130.7h1v1h-1zM417.1 125.5h1v1h-1zM402.5 139.7h1v1h-1zM441.2 123.9h1v1h-1zM432.7 154.4h1v1h-1zM438.7 145.1h1v1h-1zM424.1 129.1h1v1h-1zM415.4 137.2h1v1h-1zM421.8 162.1h1v1h-1zM439.2 158.7h1v1h-1zM419.6 147.9h1v1h-1zM416.2 137.4h1v1h-1zM476.5 136.0h1v1h-1zM406.0 129.0h1v1h-1zM463.1 139.8h1v1h-1zM405.8 134.8h1v1h-1zM473.0 146.6h1v1h-1zM435.8 136.1h1v1h-1zM442.7 132.0h1v1h-1zM407.5 157.0h1v1h-1zM424.7 132.7h1v1h-1zM439.8 141.0h1v1h-1zM436.8 130.3h1v1h-1zM396.7 140.5h1v1h-1zM442.6 114.6h1v1h-1zM374.6 138.3h1v1h-1zM423.9 133.1h1v1h-1zM412.0 114.6h1v1h-1zM437.5 123.8h1v1h-1zM413.7 119.5h1v1h-1zM424.1 111.0h1v1h-1zM426.7 152.3h1v1h-1zM454.5 138.7h1v1h-1zM417.4 115.0h1v1h-1zM437.5 160.8h1v1h-1zM429.6 121.6h1v1h-1zM420.5 143.6h1v1h-1zM414.0 100.9h1v1h-1zM471.7 129.5h1v1h-1zM378.7 125.9h1v1h-1zM424.7 118.2h1v1h-1zM460.5 139.6h1v1h-1zM379.3 135.9h1v1h-1zM410.1 142.8h1v1h-1zM425.0 135.4h1v1h-1zM430.1 163.0h1v1h-1zM465.5 102.1h1v1h-1zM431.6 136.8h1v1h-1zM411.5 137.3h1v1h-1zM430.0 131.5h1v1h-1zM432.1 145.7h1v1h-1zM421.4 122.0h1v1h-1zM404.3 143.8h1v1h-1zM429.4 140.8h1v1h-1zM382.3 137.0h1v1h-1zM421.9 139.3h1v1h-1zM504.5 149.5h1v1h-1zM442.0 131.9h1v1h-1zM426.6 145.7h1v1h-1zM414.2 135.1h1v1h-1zM406.5 119.7h1v1h-1zM409.0 130.6h1v1h-1zM430.8 144.0h1v1h-1zM434.0 133.1h1v1h-1zM388.7 139.4h1v1h-1zM409.6 138.4h1v1h-1zM434.2 131.1h1v1h-1zM420.0 120.7h1v1h-1zM424.5 134.9h1v1h-1zM402.6 136.0h1v1h-1zM410.2 134.2h1v1h-1zM420.0 131.5h1v1h-1zM416.7 142.6h1v1h-1zM427.0 160.1h1v1h-1zM444.4 136.3h1v1h-1zM423.7 136.2h1v1h-1zM479.5 124.3h1v1h-1zM494.9 157.3h1v1h-1zM425.8 137.5h1v1h-1zM429.3 123.6h1v1h-1zM423.8 117.1h1v1h-1zM422.4 155.8h1v1h-1zM412.1 149.2h1v1h-1zM448.9 149.3h1v1h-1zM418.7 135.2h1v1h-1zM415.8 137.1h1v1h-1zM437.8 125.9h1v1h-1zM357.0 136.7h1v1h-1zM492.0 139.6h1v1h-1zM412.9 134.1h1v1h-1zM434.8 139.5h1v1h-1zM427.0 125.7h1v1h-1zM417.8 124.6h1v1h-1zM415.5 135.3h1v1h-1zM421.8 141.7h1v1h-1zM403.3 138.0h1v1h-1zM396.7 144.2h1v1h-1zM431.2 132.4h1v1h-1zM438.8 141.1h1v1h-1zM424.4 133.9h1v1h-1zM413.4 127.1h1v1h-1zM422.3 147.3h1v1h-1zM394.9 141.8h1v1h-1zM411.5 131.9h1v1h-1zM413.4 126.2h1v1h-1zM425.7 132.2h1v1h-1zM425.9 124.6h1v1h-1zM440.2 136.7h1v1h-1zM432.9 151.2h1v1h-1zM457.6 160.4h1v1h-1zM436.1 136.0h1v1h-1zM408.7 144.4h1v1h-1zM435.1 137.9h1v1h-1zM424.7 137.6h1v1h-1zM425.4 133.2h1v1h-1zM418.9 145.5h1v1h-1zM419.0 135.1h1v1h-1zM420.8 134.6h1v1h-1zM412.1 141.8h1v1h-1zM419.9 137.4h1v1h-1zM413.8 126.9h1v1h-1zM365.3 143.6h1v1h-1zM423.1 143.3h1v1h-1zM421.8 133.7h1v1h-1zM435.1 132.0h1v1h-1zM436.3 148.5h1v1h-1zM369.4 138.1h1v1h-1zM432.4 140.8h1v1h-1zM427.3 141.7h1v1h-1zM431.7 125.0h1v1h-1zM448.2 125.5h1v1h-1zM441.8 141.0h1v1h-1zM434.1 134.5h1v1h-1zM428.9 130.4h1v1h-1zM390.8 131.0h1v1h-1zM433.5 129.6h1v1h-1zM438.3 135.8h1v1h-1zM369.7 134.6h1v1h-1zM429.4 130.2h1v1h-1zM421.0 156.1h1v1h-1zM415.7 134.8h1v1h-1zM437.0 144.7h1v1h-1zM417.3 146.8h1v1h-1zM411.8 155.6h1v1h-1zM430.7 133.2h1v1h-1zM427.0 138.1h1v1h-1zM426.5 161.0h1v1h-1zM447.7 148.4h1v1h-1zM416.7 141.4h1v1h-1zM430.5 156.7h1v1h-1zM422.7 146.2h1v1h-1zM410.4 138.2h1v1h-1zM433.2 140.3h1v1h-1zM412.6 119.2h1v1h-1zM437.3 138.4h1v1h-1zM386.2 144.1h1v1h-1zM425.7 137.3h1v1h-1zM429.2 157.7h1v1h-1zM424.6 133.5h1v1h-1zM419.0 137.3h1v1h-1zM389.8 134.4h1v1h-1zM432.8 122.9h1v1h-1zM420.9 135.9h1v1h-1zM425.0 140.7h1v1h-1zM419.6 138.2h1v1h-1zM417.5 148.6h1v1h-1zM425.1 150.6h1v1h-1zM411.6 141.5h1v1h-1zM451.2 151.1h1v1h-1zM421.5 139.5h1v1h-1zM425.4 146.0h1v1h-1zM409.0 163.0h1v1h-1zM368.3 128.7h1v1h-1zM392.6 136.8h1v1h-1zM458.3 137.7h1v1h-1zM408.9 137.0h1v1h-1zM420.5 136.7h1v1h-1zM418.3 129.3h1v1h-1zM433.4 143.4h1v1h-1zM422.4 119.6h1v1h-1zM440.9 128.7h1v1h-1zM426.6 128.6h1v1h-1zM404.4 153.3h1v1h-1zM429.3 121.4h1v1h-1zM460.8 138.9h1v1h-1zM425.6 142.5h1v1h-1zM416.0 133.7h1v1h-1zM428.0 116.2h1v1h-1zM427.9 143.5h1v1h-1zM423.1 132.5h1v1h-1zM428.2 134.5h1v1h-1zM427.5 145.7h1v1h-1zM421.6 119.4h1v1h-1zM439.2 114.1h1v1h-1zM433.2 133.2h1v1h-1zM424.3 131.8h1v1h-1zM430.2 136.8h1v1h-1zM412.6 132.2h1v1h-1zM401.5 140.2h1v1h-1zM442.0 145.0h1v1h-1zM422.9 129.7h1v1h-1zM409.4 139.6h1v1h-1zM411.4 137.8h1v1h-1zM418.7 132.4h1v1h-1zM420.4 135.9h1v1h-1zM381.4 118.2h1v1h-1zM409.1 134.3h1v1h-1zM461.0 125.4h1v1h-1zM387.4 136.7h1v1h-1zM399.7 141.8h1v1h-1zM428.0 125.5h1v1h-1zM436.2 132.9h1v1h-1zM420.8 130.4h1v1h-1zM424.6 130.5h1v1h-1zM418.7 135.0h1v1h-1zM413.3 135.6h1v1h-1zM433.6 142.3h1v1h-1zM422.3 134.8h1v1h-1zM428.8 143.1h1v1h-1zM433.9 110.9h1v1h-1zM406.2 135.7h1v1h-1zM407.2 141.7h1v1h-1zM418.4 145.0h1v1h-1zM428.9 138.5h1v1h-1zM430.6 148.3h1v1h-1zM433.8 135.4h1v1h-1zM424.7 142.5h1v1h-1zM440.5 149.8h1v1h-1zM417.1 133.2h1v1h-1zM421.8 133.1h1v1h-1zM375.3 139.8h1v1h-1zM453.1 146.8h1v1h-1zM422.4 140.2h1v1h-1zM429.2 129.6h1v1h-1zM458.1 134.0h1v1h-1zM413.1 155.5h1v1h-1zM434.1 137.8h1v1h-1zM422.5 137.2h1v1h-1zM450.3 161.0h1v1h-1zM411.3 153.2h1v1h-1zM417.5 138.9h1v1h-1zM422.7 132.6h1v1h-1zM410.3 139.8h1v1h-1zM430.5 142.5h1v1h-1zM435.6 127.0h1v1h-1zM398.9 135.6h1v1h-1zM465.4 152.5h1v1h-1zM365.5 152.4h1v1h-1zM425.3 131.1h1v1h-1zM429.6 135.5h1v1h-1zM404.8 134.2h1v1h-1zM424.1 134.3h1v1h-1zM462.0 139.2h1v1h-1zM418.4 131.5h1v1h-1zM428.8 128.5h1v1h-1zM442.9 131.3h1v1h-1zM425.3 139.7h1v1h-1zM390.2 133.7h1v1h-1zM398.8 141.3h1v1h-1zM424.8 145.6h1v1h-1zM454.4 124.5h1v1h-1zM433.4 134.9h1v1h-1zM422.1 153.0h1v1h-1zM429.2 135.8h1v1h-1zM422.5 162.6h1v1h-1zM467.9 135.8h1v1h-1zM420.2 118.4h1v1h-1zM438.3 134.7h1v1h-1zM406.6 133.3h1v1h-1zM418.4 128.7h1v1h-1zM450.4 135.6h1v1h-1zM419.9 142.9h1v1h-1zM424.4 141.7h1v1h-1zM416.3 134.2h1v1h-1zM419.4 136.3h1v1h-1zM363.1 132.2h1v1h-1zM429.4 125.7h1v1h-1zM415.1 140.2h1v1h-1zM424.2 148.6h1v1h-1zM464.3 142.8h1v1h-1zM411.6 147.3h1v1h-1zM354.1 140.2h1v1h-1zM434.8 140.5h1v1h-1zM454.8 138.0h1v1h-1zM424.8 140.4h1v1h-1zM410.0 133.9h1v1h-1zM426.4 127.8h1v1h-1zM469.6 130.6h1v1h-1zM415.7 138.6h1v1h-1zM370.3 139.5h1v1h-1zM406.1 113.2h1v1h-1zM447.8 136.3h1v1h-1zM419.3 142.4h1v1h-1zM422.1 136.8h1v1h-1zM445.0 122.7h1v1h-1zM411.1 142.6h1v1h-1zM426.7 146.0h1v1h-1zM400.3 113.6h1v1h-1zM411.5 132.0h1v1h-1zM412.0 139.8h1v1h-1zM448.7 134.7h1v1h-1zM426.7 128.0h1v1h-1zM414.4 121.0h1v1h-1zM431.1 131.7h1v1h-1zM432.3 132.2h1v1h-1zM446.1 163.9h1v1h-1zM422.0 134.6h1v1h-1zM412.3 145.3h1v1h-1zM426.4 134.2h1v1h-1zM436.0 137.0h1v1h-1zM407.5 149.9h1v1h-1zM429.2 156.4h1v1h-1zM415.4 146.3h1v1h-1zM422.5 135.7h1v1h-1zM445.7 148.3h1v1h-1zM424.6 133.4h1v1h-1zM411.9 137.6h1v1h-1zM423.3 115.3h1v1h-1zM398.4 137.9h1v1h-1zM405.2 137.5h1v1h-1zM423.6 138.0h1v1h-1zM424.9 134.8h1v1h-1zM444.1 123.1h1v1h-1zM420.6 155.2h1v1h-1zM420.6 134.9h1v1h-1zM417.3 139.3h1v1h-1zM436.6 135.2h1v1h-1zM434.4 157.9h1v1h-1zM437.3 134.7h1v1h-1zM449.4 137.4h1v1h-1zM442.7 135.9h1v1h-1zM418.9 130.3h1v1h-1zM419.5 124.3h1v1h-1zM403.1 133.4h1v1h-1zM369.3 146.3h1v1h-1zM433.2 130.0h1v1h-1zM424.7 117.6h1v1h-1zM428.2 152.7h1v1h-1zM422.4 133.6h1v1h-1zM413.9 128.8h1v1h-1zM438.3 161.9h1v1h-1zM452.0 125.8h1v1h-1zM412.6 145.3h1v1h-1zM424.5 133.5h1v1h-1zM423.0 118.8h1v1h-1zM434.6 132.0h1v1h-1zM440.3 126.3h1v1h-1zM422.1 131.5h1v1h-1zM396.9 143.0h1v1h-1zM402.0 120.7h1v1h-1zM403.6 149.2h1v1h-1zM405.5 133.8h1v1h-1zM448.6 129.0h1v1h-1zM422.0 135.3h1v1h-1zM421.6 138.6h1v1h-1zM417.0 124.1h1v1h-1zM408.8 129.9h1v1h-1zM428.8 126.9h1v1h-1zM478.3 137.7h1v1h-1zM418.3 122.9h1v1h-1zM440.6 137.0h1v1h-1zM436.5 132.6h1v1h-1zM411.7 133.2h1v1h-1zM458.7 142.6h1v1h-1zM384.9 146.4h1v1h-1zM434.1 138.1h1v1h-1zM409.4 128.9h1v1h-1zM396.9 114.2h1v1h-1zM421.5 153.4h1v1h-1zM409.5 120.2h1v1h-1zM425.3 135.3h1v1h-1zM421.5 133.9h1v1h-1zM410.0 127.2h1v1h-1zM402.2 126.5h1v1h-1zM415.7 140.2h1v1h-1zM422.5 143.6h1v1h-1zM444.3 133.2h1v1h-1zM414.1 129.7h1v1h-1zM419.9 141.2h1v1h-1zM456.2 149.0h1v1h-1zM425.5 131.5h1v1h-1zM403.2 129.5h1v1h-1zM398.5 125.9h1v1h-1zM448.7 131.1h1v1h-1zM433.1 116.9h1v1h-1zM426.5 134.7h1v1h-1zM420.1 115.1h1v1h-1zM433.9 133.8h1v1h-1zM441.3 133.2h1v1h-1zM402.0 116.5h1v1h-1zM405.2 136.0h1v1h-1zM411.3 136.7h1v1h-1zM438.9 144.2h1v1h-1zM400.9 147.7h1v1h-1zM420.5 136.7h1v1h-1zM419.8 136.3h1v1h-1zM418.3 137.5h1v1h-1zM422.1 135.1h1v1h-1zM411.5 124.2h1v1h-1zM421.9 142.0h1v1h-1zM416.2 149.8h1v1h-1zM420.9 143.6h1v1h-1zM426.1 137.9h1v1h-1zM413.6 125.9h1v1h-1zM420.8 118.0h1v1h-1zM407.4 123.5h1v1h-1zM474.3 142.7h1v1h-1zM427.1 135.7h1v1h-1zM448.0 154.4h1v1h-1zM427.4 136.8h1v1h-1zM402.6 130.9h1v1h-1zM439.7 120.2h1v1h-1zM410.5 120.1h1v1h-1zM440.2 150.2h1v1h-1zM410.2 137.8h1v1h-1zM418.8 113.0h1v1h-1zM439.2 139.0h1v1h-1zM423.3 129.5h1v1h-1zM418.4 153.2h1v1h-1zM388.4 144.6h1v1h-1zM435.0 137.7h1v1h-1zM425.9 112.5h1v1h-1zM376.6 124.7h1v1h-1zM422.2 136.2h1v1h-1zM382.0 137.0h1v1h-1zM436.6 129.7h1v1h-1zM412.2 145.6h1v1h-1zM424.1 125.4h1v1h-1zM409.3 136.7h1v1h-1zM400.4 138.3h1v1h-1zM465.0 125.6h1v1h-1zM428.0 133.0h1v1h-1zM424.4 135.2h1v1h-1zM425.7 140.3h1v1h-1zM449.2 140.1h1v1h-1zM419.2 136.1h1v1h-1zM373.3 132.3h1v1h-1zM423.2 136.9h1v1h-1zM469.1 160.1h1v1h-1zM451.8 136.3h1v1h-1zM446.5 136.1h1v1h-1zM412.1 134.3h1v1h-1zM476.7 134.2h1v1h-1zM473.2 111.0h1v1h-1zM438.5 136.7h1v1h-1zM446.8 132.2h1v1h-1zM436.2 130.2h1v1h-1zM410.8 134.0h1v1h-1zM415.6 133.4h1v1h-1zM361.6 131.4h1v1h-1zM412.0 134.1h1v1h-1zM429.7 127.7h1v1h-1zM411.3 143.5h1v1h-1zM422.0 125.3h1v1h-1zM430.4 133.8h1v1h-1zM419.4 113.9h1v1h-1zM411.4 141.7h1v1h-1zM429.7 131.6h1v1h-1zM429.8 126.0h1v1h-1zM398.0 130.2h1v1h-1zM481.0 140.6h1v1h-1zM406.0 141.1h1v1h-1zM436.0 136.9h1v1h-1zM434.7 144.1h1v1h-1zM414.7 130.5h1v1h-1zM421.2 123.1h1v1h-1zM429.8 135.8h1v1h-1zM422.1 135.1h1v1h-1zM398.4 148.2h1v1h-1zM427.3 141.0h1v1h-1zM443.9 136.8h1v1h-1zM422.5 135.8h1v1h-1zM364.9 146.1h1v1h-1zM418.0 128.3h1v1h-1zM411.9 112.6h1v1h-1zM422.7 135.0h1v1h-1zM414.8 145.4h1v1h-1zM410.2 104.8h1v1h-1zM430.0 114.4h1v1h-1zM411.7 145.2h1v1h-1zM402.5 133.9h1v1h-1zM410.7 130.9h1v1h-1zM423.4 138.6h1v1h-1zM429.9 127.8h1v1h-1zM428.0 133.8h1v1h-1zM446.6 133.0h1v1h-1zM420.1 145.8h1v1h-1zM417.4 146.8h1v1h-1zM439.6 141.7h1v1h-1zM414.8 127.0h1v1h-1zM412.0 135.1h1v1h-1zM415.8 135.9h1v1h-1zM379.2 142.9h1v1h-1zM419.5 136.0h1v1h-1zM413.3 140.3h1v1h-1zM435.4 145.7h1v1h-1zM425.4 139.3h1v1h-1zM447.5 135.5h1v1h-1zM400.1 139.3h1v1h-1zM404.1 128.8h1v1h-1zM430.9 139.9h1v1h-1zM430.9 124.1h1v1h-1zM431.1 134.6h1v1h-1zM412.8 140.5h1v1h-1zM418.7 138.9h1v1h-1zM409.9 132.8h1v1h-1zM419.2 111.7h1v1h-1zM420.6 134.8h1v1h-1zM441.4 147.8h1v1h-1zM415.2 129.4h1v1h-1zM465.9 127.2h1v1h-1zM419.5 141.8h1v1h-1zM414.4 125.1h1v1h-1zM425.3 126.0h1v1h-1zM424.4 131.8h1v1h-1zM433.4 143.3h1v1h-1zM416.5 134.4h1v1h-1zM451.6 145.6h1v1h-1zM421.7 130.4h1v1h-1zM414.8 130.7h1v1h-1zM415.1 141.4h1v1h-1zM390.5 134.7h1v1h-1zM421.0 148.2h1v1h-1zM402.8 135.8h1v1h-1zM447.8 132.8h1v1h-1zM443.7 132.1h1v1h-1zM427.4 132.1h1v1h-1zM420.1 128.4h1v1h-1zM427.3 140.4h1v1h-1zM443.0 124.0h1v1h-1zM384.9 134.3h1v1h-1zM435.0 123.2h1v1h-1zM347.1 130.8h1v1h-1zM423.7 122.7h1v1h-1zM406.4 130.3h1v1h-1zM420.9 124.1h1v1h-1zM398.5 132.8h1v1h-1zM440.9 132.5h1v1h-1zM416.3 136.0h1v1h-1zM416.1 119.3h1v1h-1zM401.9 113.6h1v1h-1zM443.0 131.3h1v1h-1zM420.2 146.9h1v1h-1zM409.2 129.9h1v1h-1zM447.3 131.2h1v1h-1zM438.6 138.3h1v1h-1zM416.1 133.0h1v1h-1zM416.4 128.5h1v1h-1zM418.5 139.2h1v1h-1zM412.1 151.1h1v1h-1zM433.8 131.8h1v1h-1zM416.6 133.1h1v1h-1zM426.1 152.0h1v1h-1zM420.4 149.3h1v1h-1zM466.7 153.6h1v1h-1zM459.3 148.3h1v1h-1zM394.2 124.8h1v1h-1zM365.1 125.6h1v1h-1zM426.6 139.3h1v1h-1zM437.6 111.7h1v1h-1zM402.3 134.1h1v1h-1zM411.2 126.2h1v1h-1zM423.6 127.9h1v1h-1zM430.2 155.2h1v1h-1zM423.4 140.5h1v1h-1zM413.5 139.2h1v1h-1zM425.2 139.1h1v1h-1zM435.0 141.1h1v1h-1zM416.3 132.3h1v1h-1zM418.2 128.6h1v1h-1zM421.3 139.3h1v1h-1zM424.5 146.0h1v1h-1zM415.6 158.9h1v1h-1zM455.7 156.4h1v1h-1zM437.0 96.4h1v1h-1zM457.6 132.4h1v1h-1zM454.8 136.7h1v1h-1zM407.4 138.8h1v1h-1zM421.6 127.2h1v1h-1zM407.6 141.6h1v1h-1zM464.1 131.7h1v1h-1zM443.1 127.7h1v1h-1zM425.0 129.6h1v1h-1zM434.9 137.8h1v1h-1zM448.3 124.4h1v1h-1zM434.0 128.3h1v1h-1zM369.7 141.8h1v1h-1zM461.3 137.1h1v1h-1zM373.3 124.2h1v1h-1zM431.6 153.5h1v1h-1zM427.0 141.1h1v1h-1zM397.3 130.9h1v1h-1zM411.5 138.2h1v1h-1zM414.4 136.8h1v1h-1zM411.0 147.5h1v1h-1zM422.3 145.9h1v1h-1zM427.3 136.9h1v1h-1zM366.1 130.8h1v1h-1zM434.3 132.1h1v1h-1zM423.4 110.2h1v1h-1zM421.6 127.7h1v1h-1zM421.2 108.6h1v1h-1zM388.6 135.7h1v1h-1zM452.5 135.6h1v1h-1zM423.0 142.1h1v1h-1zM417.8 126.9h1v1h-1zM405.5 129.8h1v1h-1zM428.6 140.6h1v1h-1zM437.4 135.3h1v1h-1zM409.6 132.2h1v1h-1zM425.4 129.1h1v1h-1zM382.6 129.1h1v1h-1zM403.5 151.9h1v1h-1zM445.5 149.8h1v1h-1zM424.6 139.2h1v1h-1zM431.7 135.8h1v1h-1zM463.1 117.1h1v1h-1zM424.2 126.1h1v1h-1zM408.4 134.9h1v1h-1zM417.7 139.1h1v1h-1zM431.5 112.1h1v1h-1zM448.1 128.8h1v1h-1zM456.5 157.7h1v1h-1zM407.4 137.4h1v1h-1zM426.2 150.7h1v1h-1zM410.7 147.3h1v1h-1zM426.9 126.1h1v1h-1zM421.2 130.5h1v1h-1zM441.8 142.0h1v1h-1zM442.2 135.3h1v1h-1zM470.3 129.3h1v1h-1zM443.4 140.9h1v1h-1zM421.0 137.9h1v1h-1zM438.2 144.2h1v1h-1zM451.2 150.1h1v1h-1zM455.9 143.6h1v1h-1zM492.8 144.2h1v1h-1zM442.7 130.9h1v1h-1zM415.1 123.9h1v1h-1zM399.6 136.7h1v1h-1zM430.0 152.0h1v1h-1zM409.8 134.8h1v1h-1zM409.1 131.6h1v1h-1zM425.4 135.4h1v1h-1zM444.0 125.9h1v1h-1zM385.0 134.4h1v1h-1zM477.7 139.9h1v1h-1zM425.5 153.5h1v1h-1zM429.3 131.4h1v1h-1zM401.4 147.6h1v1h-1zM419.2 150.0h1v1h-1zM443.9 126.5h1v1h-1zM368.2 133.4h1v1h-1zM437.1 134.8h1v1h-1zM418.2 149.8h1v1h-1zM431.2 141.5h1v1h-1zM400.7 134.8h1v1h-1zM416.2 118.5h1v1h-1zM372.1 140.3h1v1h-1zM445.6 123.4h1v1h-1zM425.1 143.6h1v1h-1zM404.3 161.6h1v1h-1zM467.0 137.3h1v1h-1zM415.5 150.5h1v1h-1zM414.9 137.4h1v1h-1zM427.2 130.6h1v1h-1zM415.2 138.9h1v1h-1zM432.3 148.2h1v1h-1zM444.6 136.5h1v1h-1zM461.2 138.2h1v1h-1zM433.2 139.9h1v1h-1zM404.8 136.6h1v1h-1zM422.0 140.5h1v1h-1zM390.5 122.1h1v1h-1zM426.9 131.8h1v1h-1zM436.3 156.8h1v1h-1zM415.7 130.0h1v1h-1zM425.3 130.5h1v1h-1zM418.1 140.6h1v1h-1zM442.6 131.5h1v1h-1zM417.1 138.5h1v1h-1zM433.8 119.4h1v1h-1zM423.1 130.8h1v1h-1zM417.9 135.5h1v1h-1zM421.0 129.8h1v1h-1zM452.3 134.4h1v1h-1zM423.3 135.0h1v1h-1zM423.3 139.9h1v1h-1zM458.9 135.1h1v1h-1zM408.5 129.4h1v1h-1zM414.5 141.6h1v1h-1zM419.9 150.4h1v1h-1zM445.0 136.4h1v1h-1zM405.8 138.0h1v1h-1zM428.2 132.4h1v1h-1zM431.1 133.7h1v1h-1zM429.8 130.0h1v1h-1zM440.7 140.8h1v1h-1zM428.3 130.0h1v1h-1zM410.7 134.1h1v1h-1zM382.5 150.8h1v1h-1zM438.3 136.8h1v1h-1zM417.9 142.4h1v1h-1zM430.6 151.6h1v1h-1zM416.1 156.1h1v1h-1zM437.5 135.6h1v1h-1zM396.3 131.3h1v1h-1zM428.9 131.5h1v1h-1zM421.4 120.7h1v1h-1zM438.7 135.7h1v1h-1zM404.2 116.8h1v1h-1zM413.2 135.5h1v1h-1zM402.6 127.3h1v1h-1zM425.0 124.4h1v1h-1zM428.7 151.2h1v1h-1zM428.4 121.7h1v1h-1zM406.6 152.2h1v1h-1zM425.2 142.5h1v1h-1zM429.6 128.3h1v1h-1zM395.9 136.1h1v1h-1zM431.7 134.8h1v1h-1zM441.1 132.6h1v1h-1zM394.5 137.5h1v1h-1zM412.1 142.0h1v1h-1zM402.4 152.7h1v1h-1zM426.3 146.2h1v1h-1zM450.3 134.9h1v1h-1zM404.2 147.2h1v1h-1zM429.7 137.3h1v1h-1zM400.2 133.7h1v1h-1zM425.3 137.2h1v1h-1zM421.5 137.3h1v1h-1zM435.6 150.5h1v1h-1zM418.2 141.1h1v1h-1zM414.2 135.6h1v1h-1zM488.5 129.8h1v1h-1zM426.4 111.9h1v1h-1zM427.9 138.0h1v1h-1zM450.7 139.1h1v1h-1zM434.4 130.6h1v1h-1zM417.5 114.0h1v1h-1zM414.6 129.7h1v1h-1zM405.9 129.4h1v1h-1zM422.5 131.5h1v1h-1zM458.2 143.9h1v1h-1zM427.5 129.8h1v1h-1zM407.5 134.8h1v1h-1zM431.9 125.0h1v1h-1zM426.8 132.2h1v1h-1zM442.4 123.5h1v1h-1zM426.9 136.6h1v1h-1zM410.7 147.2h1v1h-1zM434.4 119.3h1v1h-1zM431.9 132.1h1v1h-1zM414.0 147.8h1v1h-1zM444.3 111.0h1v1h-1zM415.1 147.0h1v1h-1zM401.5 138.5h1v1h-1zM428.5 136.2h1v1h-1zM412.1 139.2h1v1h-1zM402.8 140.5h1v1h-1zM419.5 131.6h1v1h-1zM443.4 126.1h1v1h-1zM421.1 144.9h1v1h-1zM401.0 137.3h1v1h-1zM384.4 133.9h1v1h-1zM408.9 135.1h1v1h-1zM404.3 131.2h1v1h-1zM346.3 130.2h1v1h-1zM420.4 134.7h1v1h-1zM423.1 140.8h1v1h-1zM415.5 133.5h1v1h-1zM433.6 136.1h1v1h-1zM435.4 136.6h1v1h-1zM449.6 137.8h1v1h-1zM421.4 133.8h1v1h-1zM419.7 131.4h1v1h-1zM407.9 137.7h1v1h-1zM401.5 114.3h1v1h-1zM420.0 139.3h1v1h-1zM430.6 139.9h1v1h-1zM431.6 148.2h1v1h-1zM439.4 153.6h1v1h-1zM417.0 137.5h1v1h-1zM446.6 137.8h1v1h-1zM431.9 132.6h1v1h-1zM418.8 138.9h1v1h-1zM396.0 153.0h1v1h-1zM396.0 133.4h1v1h-1zM412.4 138.0h1v1h-1zM448.1 134.4h1v1h-1zM455.1 122.8h1v1h-1zM436.5 126.0h1v1h-1zM404.6 133.3h1v1h-1zM407.5 114.9h1v1h-1zM437.9 163.1h1v1h-1zM417.9 142.6h1v1h-1zM358.2 131.5h1v1h-1zM404.1 128.4h1v1h-1zM456.7 135.0h1v1h-1zM450.5 131.2h1v1h-1zM409.3 146.6h1v1h-1zM457.9 132.0h1v1h-1zM410.7 123.4h1v1h-1zM412.7 125.1h1v1h-1zM405.9 143.1h1v1h-1zM417.6 154.3h1v1h-1zM424.4 138.4h1v1h-1zM437.6 146.8h1v1h-1zM435.3 127.2h1v1h-1zM467.0 133.1h1v1h-1zM428.6 133.5h1v1h-1zM424.0 125.7h1v1h-1zM416.5 136.8h1v1h-1zM443.8 145.1h1v1h-1zM421.7 121.5h1v1h-1zM404.4 130.5h1v1h-1zM417.8 135.2h1v1h-1zM422.6 125.1h1v1h-1zM430.1 138.7h1v1h-1zM352.4 123.5h1v1h-1zM461.8 132.5h1v1h-1zM426.3 128.4h1v1h-1zM428.1 143.2h1v1h-1zM429.4 143.8h1v1h-1zM472.3 138.8h1v1h-1zM434.8 121.4h1v1h-1zM428.7 139.5h1v1h-1zM418.8 162.2h1v1h-1zM429.3 156.6h1v1h-1zM435.5 144.1h1v1h-1zM420.4 135.8h1v1h-1zM429.6 142.6h1v1h-1zM413.1 105.4h1v1h-1zM430.5 140.5h1v1h-1zM420.7 139.3h1v1h-1zM351.5 132.6h1v1h-1zM447.7 148.6h1v1h-1zM409.5 132.6h1v1h-1zM470.2 132.5h1v1h-1zM443.6 126.4h1v1h-1zM424.6 132.3h1v1h-1zM412.4 142.9h1v1h-1zM417.4 133.0h1v1h-1zM435.2 129.6h1v1h-1zM423.7 121.7h1v1h-1zM425.0 137.2h1v1h-1zM418.4 142.7h1v1h-1zM410.4 138.3h1v1h-1zM428.8 140.8h1v1h-1zM441.0 154.3h1v1h-1zM425.8 132.1h1v1h-1zM416.5 134.9h1v1h-1zM440.3 135.6h1v1h-1zM429.1 126.3h1v1h-1zM367.2 124.2h1v1h-1zM419.8 142.4h1v1h-1zM389.0 138.4h1v1h-1zM457.3 131.7h1v1h-1zM420.7 150.2h1v1h-1zM398.2 138.9h1v1h-1zM415.3 124.7h1v1h-1zM432.2 135.2h1v1h-1zM432.9 143.5h1v1h-1zM433.6 119.7h1v1h-1zM411.1 133.0h1v1h-1zM463.7 140.8h1v1h-1zM447.5 136.9h1v1h-1zM401.3 136.3h1v1h-1zM424.1 135.8h1v1h-1zM409.3 137.3h1v1h-1zM442.3 125.8h1v1h-1zM425.7 132.5h1v1h-1zM428.5 123.5h1v1h-1zM427.7 131.8h1v1h-1zM422.2 117.2h1v1h-1zM422.1 121.6h1v1h-1zM430.0 157.7h1v1h-1zM428.2 138.1h1v1h-1zM420.5 143.4h1v1h-1zM438.3 135.4h1v1h-1zM440.4 133.5h1v1h-1zM423.3 138.3h1v1h-1zM378.1 119.5h1v1h-1zM417.6 110.9h1v1h-1zM477.1 130.0h1v1h-1zM425.5 122.4h1v1h-1zM434.5 138.1h1v1h-1zM434.3 130.2h1v1h-1zM416.6 134.8h1v1h-1zM427.7 140.7h1v1h-1zM382.2 138.1h1v1h-1zM412.6 124.5h1v1h-1zM428.5 142.4h1v1h-1zM427.3 147.5h1v1h-1zM432.3 150.9h1v1h-1zM448.8 137.9h1v1h-1zM465.5 152.6h1v1h-1zM402.2 132.5h1v1h-1zM432.2 133.0h1v1h-1zM399.1 148.4h1v1h-1zM488.5 131.0h1v1h-1zM431.2 160.4h1v1h-1zM430.9 116.7h1v1h-1zM432.1 134.6h1v1h-1zM465.4 138.8h1v1h-1zM445.3 128.3h1v1h-1zM421.3 132.3h1v1h-1zM408.5 134.9h1v1h-1zM426.0 151.4h1v1h-1zM439.7 144.5h1v1h-1zM401.4 128.3h1v1h-1zM439.7 141.3h1v1h-1zM441.5 133.8h1v1h-1zM440.0 125.1h1v1h-1zM455.8 138.2h1v1h-1zM414.0 144.7h1v1h-1zM352.3 137.6h1v1h-1zM428.1 149.0h1v1h-1zM429.6 141.1h1v1h-1zM448.7 143.6h1v1h-1zM461.2 131.3h1v1h-1zM440.5 130.4h1v1h-1zM431.4 134.9h1v1h-1zM431.2 136.7h1v1h-1zM433.4 123.1h1v1h-1zM419.6 132.2h1v1h-1zM429.9 136.6h1v1h-1zM454.0 131.7h1v1h-1zM432.9 142.5h1v1h-1zM495.2 116.1h1v1h-1zM430.0 121.9h1v1h-1zM398.5 140.2h1v1h-1zM424.3 136.9h1v1h-1zM434.6 124.4h1v1h-1zM421.2 140.1h1v1h-1zM434.8 139.9h1v1h-1zM428.4 139.1h1v1h-1zM430.8 150.2h1v1h-1zM375.1 132.6h1v1h-1zM407.8 136.1h1v1h-1zM411.4 151.4h1v1h-1zM429.9 153.6h1v1h-1zM422.1 97.0h1v1h-1zM447.3 136.4h1v1h-1zM423.8 133.7h1v1h-1zM425.8 130.9h1v1h-1zM431.0 145.2h1v1h-1zM443.5 134.7h1v1h-1zM412.9 138.9h1v1h-1zM422.1 152.9h1v1h-1zM439.9 121.6h1v1h-1zM429.7 135.0h1v1h-1zM398.6 140.1h1v1h-1zM426.7 136.0h1v1h-1zM400.3 141.2h1v1h-1zM430.1 117.7h1v1h-1zM479.0 142.2h1v1h-1zM429.5 133.4h1v1h-1zM413.0 133.7h1v1h-1zM394.1 156.3h1v1h-1zM391.1 136.3h1v1h-1zM417.1 128.0h1v1h-1zM437.7 155.7h1v1h-1zM447.4 137.6h1v1h-1zM412.6 136.5h1v1h-1zM421.8 138.6h1v1h-1zM406.4 144.2h1v1h-1zM455.1 160.9h1v1h-1zM419.7 126.3h1v1h-1zM406.8 157.2h1v1h-1zM445.1 147.3h1v1h-1zM413.8 138.2h1v1h-1zM424.7 152.8h1v1h-1zM421.1 115.1h1v1h-1zM428.8 128.6h1v1h-1zM419.5 133.7h1v1h-1zM452.7 138.1h1v1h-1zM405.9 133.9h1v1h-1zM422.0 133.0h1v1h-1zM359.4 137.1h1v1h-1zM421.2 143.5h1v1h-1zM430.6 162.7h1v1h-1zM418.2 129.5h1v1h-1zM425.7 128.2h1v1h-1zM417.2 130.8h1v1h-1zM450.8 141.7h1v1h-1zM422.5 130.3h1v1h-1zM431.0 136.1h1v1h-1zM399.0 146.3h1v1h-1zM416.6 133.3h1v1h-1zM424.6 140.8h1v1h-1zM412.7 139.7h1v1h-1zM425.3 128.7h1v1h-1zM422.2 120.4h1v1h-1zM409.4 135.3h1v1h-1zM384.8 129.6h1v1h-1zM416.8 161.2h1v1h-1zM421.1 150.0h1v1h-1zM427.8 139.4h1v1h-1zM441.2 136.8h1v1h-1zM389.7 134.3h1v1h-1zM434.8 135.2h1v1h-1zM414.3 129.2h1v1h-1zM445.8 162.3h1v1h-1zM448.7 137.9h1v1h-1zM464.0 145.1h1v1h-1zM411.6 123.8h1v1h-1zM408.8 144.2h1v1h-1zM404.8 127.9h1v1h-1zM402.5 136.3h1v1h-1zM422.0 135.6h1v1h-1zM427.5 124.0h1v1h-1zM422.2 141.0h1v1h-1zM427.9 140.5h1v1h-1zM409.9 134.7h1v1h-1zM411.0 140.0h1v1h-1zM389.4 131.4h1v1h-1zM393.6 143.1h1v1h-1zM409.4 147.0h1v1h-1zM401.9 134.2h1v1h-1zM439.9 139.0h1v1h-1zM456.5 151.6h1v1h-1zM401.5 103.9h1v1h-1zM416.5 138.3h1v1h-1zM413.5 134.1h1v1h-1zM445.5 134.9h1v1h-1zM427.6 135.4h1v1h-1zM465.6 129.2h1v1h-1zM419.4 115.1h1v1h-1zM412.4 131.9h1v1h-1zM423.1 139.7h1v1h-1zM389.2 135.5h1v1h-1zM418.4 137.2h1v1h-1zM426.2 133.2h1v1h-1zM407.7 134.7h1v1h-1zM419.0 138.5h1v1h-1zM417.6 115.0h1v1h-1zM403.8 132.9h1v1h-1zM415.3 121.9h1v1h-1zM427.1 144.7h1v1h-1zM422.7 139.4h1v1h-1zM423.1 140.5h1v1h-1zM423.7 145.0h1v1h-1zM410.1 142.7h1v1h-1zM424.4 137.8h1v1h-1zM433.6 139.4h1v1h-1zM417.2 138.5h1v1h-1zM418.4 128.1h1v1h-1zM396.5 146.4h1v1h-1zM410.3 138.3h1v1h-1zM444.4 128.9h1v1h-1zM440.7 134.0h1v1h-1zM429.0 138.1h1v1h-1zM448.4 137.3h1v1h-1zM397.0 145.3h1v1h-1zM451.4 139.3h1v1h-1zM411.0 128.9h1v1h-1zM450.5 121.5h1v1h-1zM426.8 137.9h1v1h-1zM418.6 145.0h1v1h-1zM423.9 119.0h1v1h-1zM422.5 152.6h1v1h-1zM445.3 146.3h1v1h-1zM417.4 139.2h1v1h-1zM387.3 137.7h1v1h-1zM428.3 132.6h1v1h-1zM428.2 146.1h1v1h-1zM397.9 142.7h1v1h-1zM424.2 123.1h1v1h-1zM429.0 129.8h1v1h-1zM438.3 154.8h1v1h-1zM432.9 134.4h1v1h-1zM404.1 129.1h1v1h-1zM432.8 138.2h1v1h-1zM415.1 134.6h1v1h-1zM413.4 128.7h1v1h-1zM449.8 130.5h1v1h-1zM465.9 148.6h1v1h-1zM427.4 134.9h1v1h-1zM400.6 144.0h1v1h-1zM419.2 151.2h1v1h-1zM414.3 151.9h1v1h-1zM418.8 140.3h1v1h-1zM454.4 138.7h1v1h-1zM408.7 132.6h1v1h-1zM423.3 141.7h1v1h-1zM416.6 133.6h1v1h-1zM404.2 134.7h1v1h-1zM428.6 125.3h1v1h-1zM413.8 142.2h1v1h-1zM463.3 117.7h1v1h-1zM378.5 144.6h1v1h-1zM420.1 131.2h1v1h-1zM416.2 131.0h1v1h-1zM421.5 138.7h1v1h-1zM413.9 140.3h1v1h-1zM431.5 136.0h1v1h-1zM459.3 125.4h1v1h-1zM389.0 146.5h1v1h-1zM402.8 139.7h1v1h-1zM433.3 120.7h1v1h-1zM414.7 123.8h1v1h-1zM421.1 137.6h1v1h-1zM431.7 121.7h1v1h-1zM397.0 130.0h1v1h-1zM414.6 127.0h1v1h-1zM451.9 133.2h1v1h-1zM445.3 130.6h1v1h-1zM409.2 143.3h1v1h-1zM387.9 141.7h1v1h-1zM452.3 117.4h1v1h-1zM432.4 148.6h1v1h-1zM421.0 142.4h1v1h-1zM425.0 150.6h1v1h-1zM483.6 162.2h1v1h-1zM447.7 137.4h1v1h-1zM427.0 127.3h1v1h-1zM419.1 138.0h1v1h-1zM405.5 162.8h1v1h-1zM408.1 138.2h1v1h-1zM424.1 126.8h1v1h-1zM413.5 131.4h1v1h-1zM416.9 135.2h1v1h-1zM419.8 135.6h1v1h-1zM426.9 122.4h1v1h-1zM437.3 139.6h1v1h-1zM421.1 140.5h1v1h-1zM425.2 137.9h1v1h-1zM441.6 126.4h1v1h-1zM432.6 138.7h1v1h-1zM405.4 125.5h1v1h-1zM424.8 143.8h1v1h-1zM433.3 151.8h1v1h-1zM420.5 154.5h1v1h-1zM423.0 133.3h1v1h-1zM375.1 133.8h1v1h-1zM416.0 157.8h1v1h-1zM375.0 145.5h1v1h-1zM428.4 143.8h1v1h-1zM340.6 121.0h1v1h-1zM450.1 116.6h1v1h-1zM445.1 144.1h1v1h-1zM403.6 157.2h1v1h-1zM447.7 131.0h1v1h-1zM441.6 130.0h1v1h-1zM489.7 125.5h1v1h-1zM416.0 133.5h1v1h-1zM442.5 138.6h1v1h-1zM397.3 123.3h1v1h-1zM427.3 128.5h1v1h-1zM414.9 117.3h1v1h-1zM427.6 131.7h1v1h-1zM418.1 152.9h1v1h-1zM401.8 135.1h1v1h-1zM423.3 128.4h1v1h-1zM348.3 159.6h1v1h-1zM410.4 145.4h1v1h-1zM429.5 135.1h1v1h-1zM423.7 109.4h1v1h-1zM405.0 137.7h1v1h-1zM437.2 133.1h1v1h-1zM461.1 124.4h1v1h-1zM400.2 133.6h1v1h-1zM419.9 142.7h1v1h-1zM378.8 135.8h1v1h-1zM362.0 134.1h1v1h-1zM412.2 135.4h1v1h-1zM429.8 116.7h1v1h-1zM437.3 139.5h1v1h-1zM422.1 161.7h1v1h-1zM382.1 151.3h1v1h-1zM420.6 159.4h1v1h-1zM404.4 139.0h1v1h-1zM420.5 151.9h1v1h-1zM399.5 142.8h1v1h-1zM426.4 129.8h1v1h-1zM425.0 131.9h1v1h-1zM452.3 139.0h1v1h-1zM414.1 137.5h1v1h-1zM432.6 148.2h1v1h-1zM477.4 147.4h1v1h-1zM417.0 136.3h1v1h-1zM452.7 142.3h1v1h-1zM412.8 139.3h1v1h-1zM352.8 143.3h1v1h-1zM420.0 136.9h1v1h-1zM429.9 146.2h1v1h-1zM426.8 142.0h1v1h-1zM421.6 137.0h1v1h-1zM416.6 130.5h1v1h-1zM380.9 134.7h1v1h-1zM431.6 121.8h1v1h-1zM423.4 124.6h1v1h-1zM448.1 140.9h1v1h-1zM444.3 142.9h1v1h-1zM430.9 141.8h1v1h-1zM461.0 140.8h1v1h-1zM428.7 132.0h1v1h-1zM413.0 142.5h1v1h-1zM452.8 137.4h1v1h-1zM445.2 135.7h1v1h-1zM425.0 137.2h1v1h-1zM419.7 125.5h1v1h-1zM397.5 127.4h1v1h-1zM441.5 145.2h1v1h-1zM408.7 124.0h1v1h-1zM449.2 150.0h1v1h-1zM416.7 154.1h1v1h-1zM423.3 136.8h1v1h-1zM414.3 154.6h1v1h-1zM428.4 134.9h1v1h-1zM436.6 129.8h1v1h-1zM408.9 145.4h1v1h-1zM394.7 139.3h1v1h-1zM448.2 144.9h1v1h-1zM458.6 122.8h1v1h-1zM429.3 134.5h1v1h-1zM467.2 130.0h1v1h-1zM419.1 139.8h1v1h-1zM425.4 140.7h1v1h-1zM411.5 148.4h1v1h-1zM436.6 138.6h1v1h-1zM415.6 135.7h1v1h-1zM420.0 133.5h1v1h-1zM447.9 160.7h1v1h-1zM427.1 148.0h1v1h-1zM461.2 117.2h1v1h-1zM414.1 143.4h1v1h-1zM456.7 133.8h1v1h-1zM381.2 143.8h1v1h-1zM417.4 123.7h1v1h-1zM446.3 129.9h1v1h-1zM423.4 143.3h1v1h-1zM426.2 129.9h1v1h-1zM421.0 141.0h1v1h-1zM436.9 140.1h1v1h-1zM421.3 159.9h1v1h-1zM425.3 141.5h1v1h-1zM436.5 144.9h1v1h-1zM437.8 133.8h1v1h-1zM426.4 131.6h1v1h-1zM427.5 130.4h1v1h-1zM384.3 149.8h1v1h-1zM379.7 130.7h1v1h-1zM425.3 140.6h1v1h-1zM430.9 146.5h1v1h-1zM426.0 142.0h1v1h-1zM425.6 113.7h1v1h-1zM428.6 123.6h1v1h-1zM432.7 143.8h1v1h-1zM409.3 124.9h1v1h-1zM427.4 140.9h1v1h-1zM429.0 132.7h1v1h-1zM422.6 137.0h1v1h-1zM425.6 132.8h1v1h-1zM424.6 133.4h1v1h-1zM411.8 136.2h1v1h-1zM411.7 138.3h1v1h-1zM423.8 111.1h1v1h-1zM434.1 130.7h1v1h-1zM415.4 137.8h1v1h-1zM422.2 132.8h1v1h-1zM421.0 136.7h1v1h-1zM419.9 138.8h1v1h-1zM424.6 136.3h1v1h-1zM429.6 136.1h1v1h-1zM434.7 157.4h1v1h-1zM425.6 124.4h1v1h-1zM411.0 124.2h1v1h-1zM405.0 134.2h1v1h-1zM404.3 148.0h1v1h-1zM405.2 137.3h1v1h-1zM436.1 148.3h1v1h-1zM412.1 147.0h1v1h-1zM439.8 135.2h1v1h-1zM461.7 141.5h1v1h-1zM446.9 139.3h1v1h-1zM437.0 133.2h1v1h-1zM428.3 115.0h1v1h-1zM419.6 124.6h1v1h-1zM428.9 140.7h1v1h-1zM424.5 128.0h1v1h-1zM414.3 117.1h1v1h-1zM444.7 134.9h1v1h-1zM426.5 118.3h1v1h-1zM407.2 128.3h1v1h-1zM428.5 153.9h1v1h-1zM421.5 129.6h1v1h-1zM441.0 127.6h1v1h-1zM408.3 145.0h1v1h-1zM424.1 141.9h1v1h-1zM433.8 130.2h1v1h-1zM435.5 147.9h1v1h-1zM437.4 138.2h1v1h-1zM435.1 130.3h1v1h-1zM416.5 140.8h1v1h-1zM403.1 134.1h1v1h-1zM389.7 139.9h1v1h-1zM359.2 124.2h1v1h-1zM423.6 142.7h1v1h-1zM419.3 134.8h1v1h-1zM416.6 126.6h1v1h-1zM423.1 139.2h1v1h-1zM419.3 139.4h1v1h-1zM413.5 137.6h1v1h-1zM417.8 137.5h1v1h-1zM410.8 129.2h1v1h-1zM442.1 136.7h1v1h-1zM421.6 130.8h1v1h-1zM433.0 143.6h1v1h-1zM429.9 126.4h1v1h-1zM422.0 133.4h1v1h-1zM451.9 136.1h1v1h-1zM420.1 137.3h1v1h-1zM419.3 126.5h1v1h-1zM434.5 142.9h1v1h-1zM425.5 135.2h1v1h-1zM419.4 134.6h1v1h-1zM459.4 129.9h1v1h-1zM435.2 142.7h1v1h-1zM474.2 119.8h1v1h-1zM431.7 133.9h1v1h-1zM438.7 147.3h1v1h-1zM428.9 141.8h1v1h-1zM417.4 115.9h1v1h-1zM394.7 133.9h1v1h-1zM405.5 130.4h1v1h-1zM426.2 135.5h1v1h-1zM434.1 117.9h1v1h-1zM423.2 145.1h1v1h-1zM382.5 138.0h1v1h-1zM424.3 143.3h1v1h-1zM424.5 105.8h1v1h-1zM491.4 137.3h1v1h-1zM389.4 137.1h1v1h-1zM423.7 135.4h1v1h-1zM426.8 134.6h1v1h-1zM414.9 140.4h1v1h-1zM420.5 142.6h1v1h-1zM413.6 144.5h1v1h-1zM402.9 134.6h1v1h-1zM426.3 140.7h1v1h-1zM425.9 135.5h1v1h-1zM412.9 121.9h1v1h-1zM424.4 125.2h1v1h-1zM442.7 118.1h1v1h-1zM493.3 147.7h1v1h-1zM421.8 146.7h1v1h-1zM411.6 136.9h1v1h-1zM417.1 125.9h1v1h-1zM427.9 141.6h1v1h-1zM414.6 128.0h1v1h-1zM395.9 125.3h1v1h-1zM429.3 137.4h1v1h-1zM449.2 150.6h1v1h-1zM448.8 140.7h1v1h-1zM416.4 139.1h1v1h-1zM450.1 139.3h1v1h-1zM437.3 154.2h1v1h-1zM454.4 127.3h1v1h-1zM411.1 141.4h1v1h-1zM433.8 126.9h1v1h-1zM377.0 139.4h1v1h-1zM432.2 144.5h1v1h-1zM381.4 136.7h1v1h-1zM419.9 142.4h1v1h-1zM467.6 131.1h1v1h-1zM422.2 127.1h1v1h-1zM384.4 137.8h1v1h-1zM425.6 121.5h1v1h-1zM433.2 140.4h1v1h-1zM428.3 126.4h1v1h-1zM424.0 127.8h1v1h-1zM422.9 129.8h1v1h-1zM423.8 134.5h1v1h-1zM425.5 124.3h1v1h-1zM433.3 128.6h1v1h-1zM437.3 152.0h1v1h-1zM397.0 133.6h1v1h-1zM491.7 131.2h1v1h-1zM423.2 136.7h1v1h-1zM399.1 139.8h1v1h-1zM489.6 138.4h1v1h-1zM455.0 148.7h1v1h-1zM435.9 136.6h1v1h-1zM400.7 134.2h1v1h-1zM430.0 134.5h1v1h-1zM424.0 137.7h1v1h-1zM419.1 138.4h1v1h-1zM422.7 147.1h1v1h-1zM421.1 144.4h1v1h-1zM410.1 136.1h1v1h-1zM422.2 135.5h1v1h-1zM420.6 136.4h1v1h-1zM425.9 137.2h1v1h-1zM406.9 148.9h1v1h-1zM437.0 131.7h1v1h-1zM418.1 114.7h1v1h-1zM423.2 131.9h1v1h-1zM405.1 130.8h1v1h-1zM360.7 145.8h1v1h-1zM421.2 160.6h1v1h-1zM425.2 150.0h1v1h-1zM412.5 140.5h1v1h-1zM389.7 115.2h1v1h-1zM421.0 140.7h1v1h-1zM410.3 108.3h1v1h-1zM423.1 118.5h1v1h-1zM430.6 138.1h1v1h-1zM420.1 134.2h1v1h-1zM432.4 139.0h1v1h-1zM468.8 127.4h1v1h-1zM435.6 127.8h1v1h-1zM446.4 141.1h1v1h-1zM410.0 122.4h1v1h-1zM418.0 144.4h1v1h-1zM429.8 135.5h1v1h-1zM422.9 132.6h1v1h-1zM436.6 130.6h1v1h-1zM413.9 125.3h1v1h-1zM452.7 150.2h1v1h-1zM418.1 118.3h1v1h-1zM434.9 130.3h1v1h-1zM421.3 136.3h1v1h-1zM433.7 126.4h1v1h-1zM427.0 137.3h1v1h-1zM435.0 151.4h1v1h-1zM414.9 141.5h1v1h-1zM428.3 143.7h1v1h-1zM425.4 142.0h1v1h-1zM418.7 132.9h1v1h-1zM425.7 133.0h1v1h-1zM401.9 120.5h1v1h-1zM407.1 128.1h1v1h-1zM409.6 132.9h1v1h-1zM405.9 133.3h1v1h-1zM408.9 149.0h1v1h-1zM361.5 127.9h1v1h-1zM414.2 146.4h1v1h-1zM427.0 133.0h1v1h-1zM420.9 136.4h1v1h-1zM426.3 137.9h1v1h-1zM410.2 128.2h1v1h-1zM398.3 136.3h1v1h-1zM418.6 137.1h1v1h-1zM434.5 136.1h1v1h-1zM421.9 120.6h1v1h-1zM418.0 152.6h1v1h-1zM409.4 149.5h1v1h-1zM417.7 116.5h1v1h-1zM442.0 127.4h1v1h-1zM389.0 157.3h1v1h-1zM450.8 125.2h1v1h-1zM418.7 141.0h1v1h-1zM445.1 143.5h1v1h-1zM398.9 130.4h1v1h-1zM461.5 144.6h1v1h-1zM423.3 143.4h1v1h-1zM428.7 132.5h1v1h-1zM438.7 131.5h1v1h-1zM420.2 141.0h1v1h-1zM436.4 138.9h1v1h-1zM414.9 132.0h1v1h-1zM440.3 117.6h1v1h-1zM441.0 117.5h1v1h-1zM424.2 138.1h1v1h-1zM385.9 132.1h1v1h-1zM402.2 158.3h1v1h-1zM406.6 128.8h1v1h-1zM420.8 133.7h1v1h-1zM446.2 139.3h1v1h-1zM439.1 126.9h1v1h-1zM388.8 132.9h1v1h-1zM378.9 151.9h1v1h-1zM464.8 133.7h1v1h-1zM422.7 134.8h1v1h-1zM465.3 111.4h1v1h-1zM427.7 152.2h1v1h-1zM409.7 135.7h1v1h-1zM399.2 137.7h1v1h-1zM439.0 138.9h1v1h-1zM442.2 149.7h1v1h-1zM436.6 135.5h1v1h-1zM392.4 144.2h1v1h-1zM376.4 124.4h1v1h-1zM422.6 135.5h1v1h-1zM422.6 133.7h1v1h-1zM423.1 126.9h1v1h-1zM442.0 153.3h1v1h-1zM423.0 129.3h1v1h-1zM420.0 144.0h1v1h-1zM468.9 139.0h1v1h-1zM429.5 143.7h1v1h-1zM456.5 134.2h1v1h-1zM413.5 126.4h1v1h-1zM407.8 129.6h1v1h-1zM404.5 135.6h1v1h-1zM423.2 128.3h1v1h-1zM430.2 140.3h1v1h-1zM386.9 133.8h1v1h-1zM412.0 125.8h1v1h-1zM417.8 130.8h1v1h-1zM447.8 132.9h1v1h-1zM409.4 138.8h1v1h-1zM429.6 142.5h1v1h-1zM420.2 133.8h1v1h-1zM451.0 126.1h1v1h-1zM427.6 116.4h1v1h-1zM414.5 139.8h1v1h-1zM413.3 132.0h1v1h-1zM443.3 138.4h1v1h-1zM406.5 134.9h1v1h-1zM434.6 129.7h1v1h-1zM431.5 141.5h1v1h-1zM428.9 137.4h1v1h-1zM409.8 145.8h1v1h-1zM410.1 116.1h1v1h-1zM376.5 134.6h1v1h-1zM449.8 124.2h1v1h-1zM447.5 123.9h1v1h-1zM425.9 157.3h1v1h-1zM408.3 134.9h1v1h-1zM409.6 146.8h1v1h-1zM415.7 152.6h1v1h-1zM423.9 152.8h1v1h-1zM378.7 132.2h1v1h-1zM401.2 132.8h1v1h-1zM423.4 122.5h1v1h-1zM438.2 127.8h1v1h-1zM428.7 154.3h1v1h-1zM461.4 126.6h1v1h-1zM457.4 135.8h1v1h-1zM437.5 157.8h1v1h-1zM437.7 128.2h1v1h-1zM423.0 133.9h1v1h-1zM448.5 123.8h1v1h-1zM418.3 125.2h1v1h-1zM419.2 136.0h1v1h-1zM423.7 123.4h1v1h-1zM417.2 129.4h1v1h-1zM406.0 128.0h1v1h-1zM383.5 143.7h1v1h-1zM421.7 140.5h1v1h-1zM385.7 144.9h1v1h-1zM422.5 133.1h1v1h-1zM439.9 144.3h1v1h-1zM430.6 134.7h1v1h-1zM431.7 137.2h1v1h-1zM452.9 135.0h1v1h-1zM422.6 139.7h1v1h-1zM426.1 125.2h1v1h-1zM422.3 121.3h1v1h-1zM420.5 144.9h1v1h-1zM427.3 130.6h1v1h-1zM379.1 139.8h1v1h-1zM425.8 129.4h1v1h-1zM422.0 131.3h1v1h-1zM469.1 130.2h1v1h-1zM435.1 133.0h1v1h-1zM386.6 139.0h1v1h-1zM422.2 159.3h1v1h-1zM419.0 132.1h1v1h-1zM426.8 133.7h1v1h-1zM400.5 134.7h1v1h-1zM438.2 121.2h1v1h-1zM424.8 151.6h1v1h-1zM363.5 155.5h1v1h-1zM431.5 143.7h1v1h-1zM424.0 130.9h1v1h-1zM443.1 129.8h1v1h-1zM400.8 153.9h1v1h-1zM397.8 124.2h1v1h-1zM422.5 127.3h1v1h-1zM436.0 139.4h1v1h-1zM435.9 140.1h1v1h-1zM421.9 142.9h1v1h-1zM427.6 128.4h1v1h-1zM402.7 133.7h1v1h-1zM428.5 132.5h1v1h-1zM428.2 140.4h1v1h-1zM431.1 132.1h1v1h-1zM429.7 135.1h1v1h-1zM403.2 144.3h1v1h-1zM465.8 140.5h1v1h-1zM424.0 135.8h1v1h-1zM437.6 138.1h1v1h-1zM431.5 134.0h1v1h-1zM424.9 131.3h1v1h-1zM426.4 139.0h1v1h-1zM432.0 140.0h1v1h-1zM433.3 126.6h1v1h-1zM483.6 128.6h1v1h-1zM422.3 143.6h1v1h-1zM429.9 141.1h1v1h-1zM423.3 139.7h1v1h-1zM426.2 128.1h1v1h-1zM422.7 135.7h1v1h-1zM415.8 138.3h1v1h-1zM421.2 125.9h1v1h-1zM418.4 129.3h1v1h-1zM416.9 103.5h1v1h-1zM424.8 136.1h1v1h-1zM423.1 134.4h1v1h-1zM417.6 133.4h1v1h-1zM389.1 154.6h1v1h-1zM430.6 139.4h1v1h-1zM420.3 158.2h1v1h-1zM412.2 138.0h1v1h-1zM418.2 121.6h1v1h-1zM440.5 140.2h1v1h-1zM395.1 137.4h1v1h-1zM430.8 140.5h1v1h-1zM385.3 142.5h1v1h-1zM442.6 145.3h1v1h-1zM374.1 136.8h1v1h-1zM431.9 135.2h1v1h-1zM421.3 131.6h1v1h-1zM431.3 140.6h1v1h-1zM397.8 135.6h1v1h-1zM415.0 143.7h1v1h-1zM425.1 145.9h1v1h-1zM421.1 132.9h1v1h-1zM420.0 144.2h1v1h-1zM420.0 162.2h1v1h-1zM422.6 135.6h1v1h-1zM424.0 130.9h1v1h-1zM427.9 127.1h1v1h-1zM384.5 124.7h1v1h-1zM472.9 140.0h1v1h-1zM457.2 135.7h1v1h-1zM422.4 136.3h1v1h-1zM419.5 136.7h1v1h-1zM392.2 111.5h1v1h-1zM402.1 130.6h1v1h-1zM414.4 147.8h1v1h-1zM436.5 133.2h1v1h-1zM425.4 148.7h1v1h-1zM416.7 128.3h1v1h-1zM414.1 130.7h1v1h-1zM424.8 127.3h1v1h-1zM455.7 141.7h1v1h-1zM410.8 136.7h1v1h-1zM431.6 150.6h1v1h-1zM409.8 135.2h1v1h-1zM433.0 126.0h1v1h-1zM450.6 135.1h1v1h-1zM503.0 133.6h1v1h-1zM428.7 136.6h1v1h-1zM421.4 136.5h1v1h-1zM429.4 136.3h1v1h-1zM426.1 146.1h1v1h-1z" fill="#a0a0a0" opacity="0.42"/>
</g>
<path d="M422.8 166.6h1.5v1.5h-1.5zM422.2 166.7h1.5v1.5h-1.5zM421.8 170.6h1.5v1.5h-1.5zM421.9 171.5h1.5v1.5h-1.5zM423.1 170.3h1.5v1.5h-1.5zM425.7 172.1h1.5v1.5h-1.5zM422.8 167.5h1.5v1.5h-1.5zM425.0 169.7h1.5v1.5h-1.5zM425.3 164.8h1.5v1.5h-1.5zM422.2 166.8h1.5v1.5h-1.5zM437.1 166.3h1.5v1.5h-1.5zM427.5 174.8h1.5v1.5h-1.5zM423.1 167.1h1.5v1.5h-1.5zM430.1 164.8h1.5v1.5h-1.5zM429.6 171.0h1.5v1.5h-1.5zM425.8 164.7h1.5v1.5h-1.5zM424.3 166.1h1.5v1.5h-1.5zM423.8 166.2h1.5v1.5h-1.5zM421.8 164.4h1.5v1.5h-1.5zM424.1 167.4h1.5v1.5h-1.5zM423.1 170.6h1.5v1.5h-1.5zM424.3 170.0h1.5v1.5h-1.5zM423.1 186.9h1.5v1.5h-1.5zM429.9 166.5h1.5v1.5h-1.5zM424.8 164.8h1.5v1.5h-1.5zM427.9 165.6h1.5v1.5h-1.5zM430.3 164.9h1.5v1.5h-1.5zM425.7 170.2h1.5v1.5h-1.5zM427.6 168.1h1.5v1.5h-1.5zM423.0 166.8h1.5v1.5h-1.5zM434.9 167.6h1.5v1.5h-1.5zM425.3 166.7h1.5v1.5h-1.5zM432.0 167.4h1.5v1.5h-1.5zM423.0 164.6h1.5v1.5h-1.5zM423.1 164.8h1.5v1.5h-1.5zM423.6 168.6h1.5v1.5h-1.5zM422.8 176.8h1.5v1.5h-1.5zM422.1 166.8h1.5v1.5h-1.5zM422.9 167.6h1.5v1.5h-1.5zM426.2 166.7h1.5v1.5h-1.5zM425.3 164.7h1.5v1.5h-1.5zM424.2 165.7h1.5v1.5h-1.5zM422.7 164.6h1.5v1.5h-1.5zM428.6 175.4h1.5v1.5h-1.5zM423.1 167.1h1.5v1.5h-1.5zM423.5 169.9h1.5v1.5h-1.5zM425.4 167.4h1.5v1.5h-1.5zM423.7 165.4h1.5v1.5h-1.5zM423.2 165.6h1.5v1.5h-1.5zM422.3 167.9h1.5v1.5h-1.5zM424.8 167.1h1.5v1.5h-1.5zM421.9 170.6h1.5v1.5h-1.5zM423.3 166.2h1.5v1.5h-1.5zM422.9 167.3h1.5v1.5h-1.5zM422.2 181.0h1.5v1.5h-1.5zM433.5 164.5h1.5v1.5h-1.5zM423.6 168.0h1.5v1.5h-1.5zM425.4 176.9h1.5v1.5h-1.5zM422.4 172.5h1.5v1.5h-1.5zM431.0 166.7h1.5v1.5h-1.5zM425.0 174.9h1.5v1.5h-1.5zM426.2 172.1h1.5v1.5h-1.5zM422.2 165.7h1.5v1.5h-1.5zM431.7 169.1h1.5v1.5h-1.5zM430.5 171.3h1.5v1.5h-1.5zM428.1 175.6h1.5v1.5h-1.5zM426.3 169.4h1.5v1.5h-1.5zM424.1 165.8h1.5v1.5h-1.5zM422.4 164.8h1.5v1.5h-1.5zM423.9 166.0h1.5v1.5h-1.5zM433.0 170.0h1.5v1.5h-1.5zM422.4 168.2h1.5v1.5h-1.5zM427.3 166.7h1.5v1.5h-1.5zM424.7 165.2h1.5v1.5h-1.5zM421.9 167.3h1.5v1.5h-1.5z" fill="#c8306a" opacity="0.7"/>
<path d="M447.5 185.9h1.4v1.4h-1.4zM438.8 182.8h1.4v1.4h-1.4zM450.1 189.8h1.4v1.4h-1.4zM436.8 165.5h1.4v1.4h-1.4zM439.7 167.8h1.4v1.4h-1.4zM426.4 187.7h1.4v1.4h-1.4zM431.1 165.0h1.4v1.4h-1.4zM439.8 187.0h1.4v1.4h-1.4zM445.6 178.2h1.4v1.4h-1.4zM437.6 176.5h1.4v1.4h-1.4zM439.2 173.2h1.4v1.4h-1.4zM449.4 165.5h1.4v1.4h-1.4zM450.8 187.2h1.4v1.4h-1.4zM439.3 183.3h1.4v1.4h-1.4zM433.1 176.5h1.4v1.4h-1.4zM445.9 179.4h1.4v1.4h-1.4zM426.0 184.8h1.4v1.4h-1.4zM447.8 178.8h1.4v1.4h-1.4zM439.2 168.2h1.4v1.4h-1.4zM435.9 180.6h1.4v1.4h-1.4zM443.1 169.3h1.4v1.4h-1.4zM434.6 183.8h1.4v1.4h-1.4zM429.7 176.4h1.4v1.4h-1.4zM439.0 191.3h1.4v1.4h-1.4zM438.9 167.0h1.4v1.4h-1.4zM442.0 184.2h1.4v1.4h-1.4zM430.2 188.4h1.4v1.4h-1.4zM439.6 167.3h1.4v1.4h-1.4zM443.9 180.0h1.4v1.4h-1.4zM448.7 186.8h1.4v1.4h-1.4z" fill="#d06088" opacity="0.5"/>
<path d="M460.0 165.3h1.3v1.3h-1.3zM447.7 201.3h1.3v1.3h-1.3zM437.1 184.4h1.3v1.3h-1.3zM448.9 178.5h1.3v1.3h-1.3zM464.6 176.1h1.3v1.3h-1.3zM440.0 187.9h1.3v1.3h-1.3zM445.3 188.8h1.3v1.3h-1.3zM448.0 171.7h1.3v1.3h-1.3zM427.8 199.8h1.3v1.3h-1.3zM455.8 173.0h1.3v1.3h-1.3zM458.0 181.3h1.3v1.3h-1.3zM449.4 166.0h1.3v1.3h-1.3zM451.1 180.5h1.3v1.3h-1.3zM435.7 168.2h1.3v1.3h-1.3zM442.8 175.2h1.3v1.3h-1.3zM433.2 191.6h1.3v1.3h-1.3zM428.0 175.9h1.3v1.3h-1.3zM439.4 170.1h1.3v1.3h-1.3zM453.0 186.6h1.3v1.3h-1.3zM456.9 174.6h1.3v1.3h-1.3zM461.8 186.7h1.3v1.3h-1.3zM436.4 172.8h1.3v1.3h-1.3zM427.6 176.1h1.3v1.3h-1.3zM428.8 182.9h1.3v1.3h-1.3zM438.9 174.2h1.3v1.3h-1.3zM448.7 173.1h1.3v1.3h-1.3zM439.4 181.5h1.3v1.3h-1.3zM439.1 164.6h1.3v1.3h-1.3zM460.7 172.6h1.3v1.3h-1.3zM427.1 194.3h1.3v1.3h-1.3z" fill="#909090" opacity="0.45"/>
<line x1="335.80" y1="136.20" x2="510.50" y2="136.20" stroke="#000" stroke-width="1.3" />
<line x1="423.50" y1="48.40" x2="423.50" y2="223.40" stroke="#000" stroke-width="1.3" />
<line x1="338.30" y1="136.00" x2="338.30" y2="138.20" stroke="#111" stroke-width="0.9" />
<text x="337.30" y="146.60" font-size="7.8" text-anchor="middle" font-weight="normal" font-style="normal" fill="#222" stroke="#222" stroke-width="0.3" >&#8211;4</text>
<line x1="359.60" y1="136.00" x2="359.60" y2="138.20" stroke="#111" stroke-width="0.9" />
<text x="358.60" y="146.60" font-size="7.8" text-anchor="middle" font-weight="normal" font-style="normal" fill="#222" stroke="#222" stroke-width="0.3" >&#8211;3</text>
<line x1="380.90" y1="136.00" x2="380.90" y2="138.20" stroke="#111" stroke-width="0.9" />
<text x="379.90" y="146.60" font-size="7.8" text-anchor="middle" font-weight="normal" font-style="normal" fill="#222" stroke="#222" stroke-width="0.3" >&#8211;2</text>
<line x1="402.20" y1="136.00" x2="402.20" y2="138.20" stroke="#111" stroke-width="0.9" />
<text x="401.20" y="146.60" font-size="7.8" text-anchor="middle" font-weight="normal" font-style="normal" fill="#222" stroke="#222" stroke-width="0.3" >&#8211;1</text>
<line x1="444.80" y1="136.00" x2="444.80" y2="138.20" stroke="#111" stroke-width="0.9" />
<text x="445.10" y="146.60" font-size="7.8" text-anchor="middle" font-weight="normal" font-style="normal" fill="#222" stroke="#222" stroke-width="0.3" >1</text>
<line x1="466.10" y1="136.00" x2="466.10" y2="138.20" stroke="#111" stroke-width="0.9" />
<text x="466.40" y="146.60" font-size="7.8" text-anchor="middle" font-weight="normal" font-style="normal" fill="#222" stroke="#222" stroke-width="0.3" >2</text>
<line x1="487.40" y1="136.00" x2="487.40" y2="138.20" stroke="#111" stroke-width="0.9" />
<text x="487.70" y="146.60" font-size="7.8" text-anchor="middle" font-weight="normal" font-style="normal" fill="#222" stroke="#222" stroke-width="0.3" >3</text>
<line x1="508.70" y1="136.00" x2="508.70" y2="138.20" stroke="#111" stroke-width="0.9" />
<text x="509.00" y="146.60" font-size="7.8" text-anchor="middle" font-weight="normal" font-style="normal" fill="#222" stroke="#222" stroke-width="0.3" >4</text>
<line x1="419.90" y1="50.95" x2="423.50" y2="50.95" stroke="#111" stroke-width="0.9" />
<text x="417.70" y="53.85" font-size="7.8" text-anchor="end" font-weight="normal" font-style="normal" fill="#222" stroke="#222" stroke-width="0.3" >3</text>
<line x1="419.90" y1="79.30" x2="423.50" y2="79.30" stroke="#111" stroke-width="0.9" />
<text x="417.70" y="82.20" font-size="7.8" text-anchor="end" font-weight="normal" font-style="normal" fill="#222" stroke="#222" stroke-width="0.3" >2</text>
<line x1="419.90" y1="107.65" x2="423.50" y2="107.65" stroke="#111" stroke-width="0.9" />
<text x="417.70" y="110.55" font-size="7.8" text-anchor="end" font-weight="normal" font-style="normal" fill="#222" stroke="#222" stroke-width="0.3" >1</text>
<line x1="419.90" y1="164.35" x2="423.50" y2="164.35" stroke="#111" stroke-width="0.9" />
<text x="417.70" y="167.25" font-size="7.8" text-anchor="end" font-weight="normal" font-style="normal" fill="#222" stroke="#222" stroke-width="0.3" >&#8211;1</text>
<line x1="419.90" y1="192.70" x2="423.50" y2="192.70" stroke="#111" stroke-width="0.9" />
<text x="417.70" y="195.60" font-size="7.8" text-anchor="end" font-weight="normal" font-style="normal" fill="#222" stroke="#222" stroke-width="0.3" >&#8211;2</text>
<line x1="419.90" y1="221.05" x2="423.50" y2="221.05" stroke="#111" stroke-width="0.9" />
<text x="417.70" y="223.95" font-size="7.8" text-anchor="end" font-weight="normal" font-style="normal" fill="#222" stroke="#222" stroke-width="0.3" >&#8211;3</text>
<line x1="338.50" y1="164.20" x2="508.00" y2="164.20" stroke="#555" stroke-width="0.9" stroke-dasharray="2.2 1.6"/>
<line x1="348.30" y1="164.60" x2="345.80" y2="171.40" stroke="#222" stroke-width="0.9" />
<text x="337.30" y="181.50" font-size="7.3" text-anchor="start" font-weight="bold" font-style="normal" fill="#111" stroke="#111" stroke-width="0.3" >x0.5</text>
<line x1="321.90" y1="54.00" x2="321.90" y2="155.60" stroke="#333" stroke-width="1.2" />
<path d="M321.9,46.6 L324.6,55 L319.2,55 Z" fill="#111"/>
<g transform="translate(309.00,172.60) rotate(-90)"><text x="0" y="3.10" font-size="8.6" text-anchor="middle" font-weight="normal" font-style="normal" fill="#222" stroke="#222" stroke-width="0.12" textLength="103" lengthAdjust="spacingAndGlyphs">(H3K9me3 change in log2)</text></g>
<g transform="translate(321.6,221.8) rotate(-90)"><text x="0" y="3.4" font-size="9.4" fill="#222" stroke="#222" stroke-width="0.3"><tspan font-style="italic" fill="#8a2a45" stroke="#8a2a45">Setdb1</tspan><tspan font-size="6.6" dy="-3.8" font-style="italic" fill="#8a2a45" stroke="#8a2a45">&#916;/&#916;</tspan><tspan dy="3.8" dx="1.6">/WT</tspan></text></g>
<text x="328" y="235.6" font-size="9" fill="#222" stroke="#222" stroke-width="0.3"><tspan font-style="italic" fill="#8a2a45" stroke="#8a2a45">Setdb1</tspan><tspan font-size="6.6" dy="-3.8" font-style="italic" fill="#8a2a45" stroke="#8a2a45">&#916;/&#916;</tspan><tspan dy="3.8" dx="1">/WT</tspan></text>
<line x1="393.80" y1="232.60" x2="506.00" y2="232.60" stroke="#111" stroke-width="1.2" />
<path d="M513.5,232.6 L505,229.8 L505,235.4 Z" fill="#111"/>
<text x="328.00" y="248.00" font-size="8.55" text-anchor="start" font-weight="normal" font-style="normal" fill="#222" stroke="#222" stroke-width="0.3" textLength="106.5" lengthAdjust="spacingAndGlyphs" >(Expression change in log2)</text>
<circle cx="443.0" cy="137.4" r="3.1" fill="none" stroke="#111" stroke-width="1.15"/>
<circle cx="443.0" cy="137.4" r="0.6" fill="#999"/>
<text x="443.50" y="131.90" font-size="7.7" text-anchor="start" font-weight="bold" font-style="italic" fill="#111" stroke="#111" stroke-width="0.3" >Fbp1</text>
<circle cx="477.3" cy="155.3" r="3.1" fill="none" stroke="#111" stroke-width="1.15"/>
<circle cx="477.3" cy="155.3" r="0.6" fill="#999"/>
<text x="484.30" y="159.20" font-size="7.7" text-anchor="start" font-weight="bold" font-style="italic" fill="#111" stroke="#111" stroke-width="0.3" >Epcam</text>
<circle cx="470.4" cy="176.9" r="3.1" fill="none" stroke="#111" stroke-width="1.15"/>
<circle cx="470.4" cy="176.9" r="0.6" fill="#999"/>
<text x="476.30" y="173.20" font-size="7.7" text-anchor="start" font-weight="normal" font-style="italic" fill="#333" stroke="#333" stroke-width="0.3" >Rpl39l</text>
<circle cx="479.8" cy="181.5" r="3.1" fill="none" stroke="#111" stroke-width="1.15"/>
<circle cx="479.8" cy="181.5" r="0.6" fill="#999"/>
<text x="487.10" y="184.80" font-size="7.7" text-anchor="start" font-weight="normal" font-style="italic" fill="#333" stroke="#333" stroke-width="0.3" >Trap1a</text>
<circle cx="466.6" cy="185.4" r="3.1" fill="none" stroke="#111" stroke-width="1.15"/>
<circle cx="466.6" cy="185.4" r="0.6" fill="#999"/>
<text x="466.80" y="196.30" font-size="7.7" text-anchor="end" font-weight="normal" font-style="italic" fill="#333" stroke="#333" stroke-width="0.3" >Cyp2a5</text>
<circle cx="495.2" cy="194.8" r="3.1" fill="none" stroke="#111" stroke-width="1.15"/>
<circle cx="495.2" cy="194.8" r="0.6" fill="#999"/>
<text x="487.10" y="209.60" font-size="7.7" text-anchor="start" font-weight="bold" font-style="italic" fill="#111" stroke="#111" stroke-width="0.3" >Fbp2</text>
<circle cx="468.6" cy="201.6" r="3.1" fill="none" stroke="#111" stroke-width="1.15"/>
<circle cx="468.6" cy="201.6" r="0.6" fill="#999"/>
<text x="459.10" y="213.60" font-size="7.7" text-anchor="start" font-weight="normal" font-style="italic" fill="#333" stroke="#333" stroke-width="0.3" >Sycn</text>
<line x1="50.00" y1="327.36" x2="50.00" y2="394.80" stroke="#111" stroke-width="1" />
<line x1="47.20" y1="394.80" x2="50.00" y2="394.80" stroke="#111" stroke-width="0.9" />
<text x="44.50" y="397.80" font-size="8.6" text-anchor="end" font-weight="normal" font-style="normal" fill="#222" stroke="#222" stroke-width="0.18" >0</text>
<line x1="47.20" y1="385.38" x2="50.00" y2="385.38" stroke="#111" stroke-width="0.9" />
<text x="44.50" y="388.38" font-size="8.6" text-anchor="end" font-weight="normal" font-style="normal" fill="#222" stroke="#222" stroke-width="0.18" >0.2</text>
<line x1="47.20" y1="375.96" x2="50.00" y2="375.96" stroke="#111" stroke-width="0.9" />
<text x="44.50" y="378.96" font-size="8.6" text-anchor="end" font-weight="normal" font-style="normal" fill="#222" stroke="#222" stroke-width="0.18" >0.4</text>
<line x1="47.20" y1="366.54" x2="50.00" y2="366.54" stroke="#111" stroke-width="0.9" />
<text x="44.50" y="369.54" font-size="8.6" text-anchor="end" font-weight="normal" font-style="normal" fill="#222" stroke="#222" stroke-width="0.18" >0.6</text>
<line x1="47.20" y1="357.12" x2="50.00" y2="357.12" stroke="#111" stroke-width="0.9" />
<text x="44.50" y="360.12" font-size="8.6" text-anchor="end" font-weight="normal" font-style="normal" fill="#222" stroke="#222" stroke-width="0.18" >0.8</text>
<line x1="47.20" y1="347.70" x2="50.00" y2="347.70" stroke="#111" stroke-width="0.9" />
<text x="44.50" y="350.70" font-size="8.6" text-anchor="end" font-weight="normal" font-style="normal" fill="#222" stroke="#222" stroke-width="0.18" >1</text>
<line x1="47.20" y1="338.28" x2="50.00" y2="338.28" stroke="#111" stroke-width="0.9" />
<text x="44.50" y="341.28" font-size="8.6" text-anchor="end" font-weight="normal" font-style="normal" fill="#222" stroke="#222" stroke-width="0.18" >1.2</text>
<line x1="47.20" y1="328.86" x2="50.00" y2="328.86" stroke="#111" stroke-width="0.9" />
<text x="44.50" y="331.86" font-size="8.6" text-anchor="end" font-weight="normal" font-style="normal" fill="#222" stroke="#222" stroke-width="0.18" >1.4</text>
<rect x="52.80" y="334.04" width="5.4" height="60.76" fill="#000"/>
<rect x="63.50" y="359.19" width="5.4" height="35.61" fill="#000"/>
<rect x="74.20" y="359.19" width="5.4" height="35.61" fill="#000"/>
<rect x="84.90" y="359.19" width="5.4" height="35.61" fill="#000"/>
<rect x="95.60" y="360.42" width="5.4" height="34.38" fill="#000"/>
<rect x="106.30" y="364.66" width="5.4" height="30.14" fill="#000"/>
<rect x="117.00" y="365.60" width="5.4" height="29.20" fill="#000"/>
<rect x="127.70" y="366.07" width="5.4" height="28.73" fill="#000"/>
<rect x="138.40" y="367.48" width="5.4" height="27.32" fill="#000"/>
<rect x="149.10" y="368.19" width="5.4" height="26.61" fill="#000"/>
<rect x="159.80" y="372.19" width="5.4" height="22.61" fill="#000"/>
<rect x="170.50" y="372.66" width="5.4" height="22.14" fill="#000"/>
<rect x="181.20" y="374.55" width="5.4" height="20.25" fill="#000"/>
<rect x="191.90" y="375.49" width="5.4" height="19.31" fill="#000"/>
<rect x="202.60" y="376.90" width="5.4" height="17.90" fill="#000"/>
<rect x="213.30" y="382.55" width="5.4" height="12.25" fill="#000"/>
<rect x="224.00" y="382.55" width="5.4" height="12.25" fill="#000"/>
<rect x="234.70" y="383.73" width="5.4" height="11.07" fill="#000"/>
<rect x="245.40" y="384.20" width="5.4" height="10.60" fill="#000"/>
<rect x="256.10" y="384.20" width="5.4" height="10.60" fill="#000"/>
<rect x="266.80" y="389.85" width="5.4" height="4.95" fill="#000"/>
<line x1="50.00" y1="394.80" x2="277.20" y2="394.80" stroke="#111" stroke-width="1" />
<line x1="49.85" y1="394.80" x2="49.85" y2="397.20" stroke="#111" stroke-width="0.9" />
<line x1="60.55" y1="394.80" x2="60.55" y2="397.20" stroke="#111" stroke-width="0.9" />
<line x1="71.25" y1="394.80" x2="71.25" y2="397.20" stroke="#111" stroke-width="0.9" />
<line x1="81.95" y1="394.80" x2="81.95" y2="397.20" stroke="#111" stroke-width="0.9" />
<line x1="92.65" y1="394.80" x2="92.65" y2="397.20" stroke="#111" stroke-width="0.9" />
<line x1="103.35" y1="394.80" x2="103.35" y2="397.20" stroke="#111" stroke-width="0.9" />
<line x1="114.05" y1="394.80" x2="114.05" y2="397.20" stroke="#111" stroke-width="0.9" />
<line x1="124.75" y1="394.80" x2="124.75" y2="397.20" stroke="#111" stroke-width="0.9" />
<line x1="135.45" y1="394.80" x2="135.45" y2="397.20" stroke="#111" stroke-width="0.9" />
<line x1="146.15" y1="394.80" x2="146.15" y2="397.20" stroke="#111" stroke-width="0.9" />
<line x1="156.85" y1="394.80" x2="156.85" y2="397.20" stroke="#111" stroke-width="0.9" />
<line x1="167.55" y1="394.80" x2="167.55" y2="397.20" stroke="#111" stroke-width="0.9" />
<line x1="178.25" y1="394.80" x2="178.25" y2="397.20" stroke="#111" stroke-width="0.9" />
<line x1="188.95" y1="394.80" x2="188.95" y2="397.20" stroke="#111" stroke-width="0.9" />
<line x1="199.65" y1="394.80" x2="199.65" y2="397.20" stroke="#111" stroke-width="0.9" />
<line x1="210.35" y1="394.80" x2="210.35" y2="397.20" stroke="#111" stroke-width="0.9" />
<line x1="221.05" y1="394.80" x2="221.05" y2="397.20" stroke="#111" stroke-width="0.9" />
<line x1="231.75" y1="394.80" x2="231.75" y2="397.20" stroke="#111" stroke-width="0.9" />
<line x1="242.45" y1="394.80" x2="242.45" y2="397.20" stroke="#111" stroke-width="0.9" />
<line x1="253.15" y1="394.80" x2="253.15" y2="397.20" stroke="#111" stroke-width="0.9" />
<line x1="263.85" y1="394.80" x2="263.85" y2="397.20" stroke="#111" stroke-width="0.9" />
<line x1="274.55" y1="394.80" x2="274.55" y2="397.20" stroke="#111" stroke-width="0.9" />
<g transform="translate(55.50,401.50) rotate(-90)"><text x="0" y="2.97" font-size="8.25" text-anchor="end" font-weight="normal" font-style="normal" fill="#222" stroke="#222" stroke-width="0.12">thymus</text></g>
<g transform="translate(66.20,401.50) rotate(-90)"><text x="0" y="2.97" font-size="8.25" text-anchor="end" font-weight="normal" font-style="normal" fill="#222" stroke="#222" stroke-width="0.12">heart</text></g>
<g transform="translate(76.90,401.50) rotate(-90)"><text x="0" y="2.97" font-size="8.25" text-anchor="end" font-weight="normal" font-style="normal" fill="#222" stroke="#222" stroke-width="0.12">kidney</text></g>
<g transform="translate(87.60,401.50) rotate(-90)"><text x="0" y="2.97" font-size="8.25" text-anchor="end" font-weight="normal" font-style="normal" fill="#222" stroke="#222" stroke-width="0.12">hippocampus</text></g>
<g transform="translate(98.30,401.50) rotate(-90)"><text x="0" y="2.97" font-size="8.25" text-anchor="end" font-weight="normal" font-style="normal" fill="#222" stroke="#222" stroke-width="0.12">stomach</text></g>
<g transform="translate(109.00,401.50) rotate(-90)"><text x="0" y="2.97" font-size="8.25" text-anchor="end" font-weight="normal" font-style="normal" fill="#222" stroke="#222" stroke-width="0.12">oocyte</text></g>
<g transform="translate(119.70,401.50) rotate(-90)"><text x="0" y="2.97" font-size="8.25" text-anchor="end" font-weight="normal" font-style="normal" fill="#222" stroke="#222" stroke-width="0.12">skeletal_muscle</text></g>
<g transform="translate(130.40,401.50) rotate(-90)"><text x="0" y="2.97" font-size="8.25" text-anchor="end" font-weight="normal" font-style="normal" fill="#222" stroke="#222" stroke-width="0.12">brain</text></g>
<g transform="translate(141.10,401.50) rotate(-90)"><text x="0" y="2.97" font-size="8.25" text-anchor="end" font-weight="normal" font-style="normal" fill="#222" stroke="#222" stroke-width="0.12">adipose_tissue</text></g>
<g transform="translate(151.80,401.50) rotate(-90)"><text x="0" y="2.97" font-size="8.25" text-anchor="end" font-weight="normal" font-style="normal" fill="#222" stroke="#222" stroke-width="0.12">lung</text></g>
<g transform="translate(162.50,401.50) rotate(-90)"><text x="0" y="2.97" font-size="8.25" text-anchor="end" font-weight="normal" font-style="normal" fill="#222" stroke="#222" stroke-width="0.12">amygdala</text></g>
<g transform="translate(173.20,401.50) rotate(-90)"><text x="0" y="2.97" font-size="8.25" text-anchor="end" font-weight="normal" font-style="normal" fill="#222" stroke="#222" stroke-width="0.12">retina</text></g>
<g transform="translate(183.90,401.50) rotate(-90)"><text x="0" y="2.97" font-size="8.25" text-anchor="end" font-weight="normal" font-style="normal" fill="#222" stroke="#222" stroke-width="0.12">testis</text></g>
<g transform="translate(194.60,401.50) rotate(-90)"><text x="0" y="2.97" font-size="8.25" text-anchor="end" font-weight="normal" font-style="normal" fill="#222" stroke="#222" stroke-width="0.12">spleen</text></g>
<g transform="translate(205.30,401.50) rotate(-90)"><text x="0" y="2.97" font-size="8.25" text-anchor="end" font-weight="normal" font-style="normal" fill="#222" stroke="#222" stroke-width="0.12">liver</text></g>
<g transform="translate(216.00,401.50) rotate(-90)"><text x="0" y="2.97" font-size="8.25" text-anchor="end" font-weight="normal" font-style="normal" fill="#222" stroke="#222" stroke-width="0.12">pancreas</text></g>
<g transform="translate(226.70,401.50) rotate(-90)"><text x="0" y="2.97" font-size="8.25" text-anchor="end" font-weight="normal" font-style="normal" fill="#222" stroke="#222" stroke-width="0.12">bone</text></g>
<g transform="translate(237.40,401.50) rotate(-90)"><text x="0" y="2.97" font-size="8.25" text-anchor="end" font-weight="normal" font-style="normal" fill="#222" stroke="#222" stroke-width="0.12">large_intestine</text></g>
<g transform="translate(248.10,401.50) rotate(-90)"><text x="0" y="2.97" font-size="8.25" text-anchor="end" font-weight="normal" font-style="normal" fill="#222" stroke="#222" stroke-width="0.12">small_intestine</text></g>
<g transform="translate(258.80,401.50) rotate(-90)"><text x="0" y="2.97" font-size="8.25" text-anchor="end" font-weight="normal" font-style="normal" fill="#222" stroke="#222" stroke-width="0.12">placenta</text></g>
<g transform="translate(269.50,401.50) rotate(-90)"><text x="0" y="2.97" font-size="8.25" text-anchor="end" font-weight="normal" font-style="normal" fill="#222" stroke="#222" stroke-width="0.12">bone_marrow</text></g>
<g transform="translate(24.10,359.70) rotate(-90)"><text x="0" y="3.02" font-size="8.4" text-anchor="middle" font-weight="normal" font-style="normal" fill="#222" stroke="#222" stroke-width="0.12" textLength="62.6" lengthAdjust="spacingAndGlyphs">Ford enrichment</text></g>
<text x="60.80" y="319.60" font-size="9.8" font-weight="bold" fill="#111" stroke="#111" stroke-width="0.3"><tspan font-style="italic" font-size="9.5">Setdb1</tspan><tspan font-size="7.4" dy="-4.9" font-style="italic">&#916;/&#916;</tspan><tspan dy="4.9">/WT Expression UP (&gt; x2.0) in GMP</tspan></text>
<line x1="329.40" y1="326.70" x2="329.40" y2="394.20" stroke="#111" stroke-width="1" />
<line x1="326.60" y1="394.20" x2="329.40" y2="394.20" stroke="#111" stroke-width="0.9" />
<text x="324.70" y="397.20" font-size="8.6" text-anchor="end" font-weight="normal" font-style="normal" fill="#222" stroke="#222" stroke-width="0.18" >0</text>
<line x1="326.60" y1="381.00" x2="329.40" y2="381.00" stroke="#111" stroke-width="0.9" />
<text x="324.70" y="384.00" font-size="8.6" text-anchor="end" font-weight="normal" font-style="normal" fill="#222" stroke="#222" stroke-width="0.18" >0.5</text>
<line x1="326.60" y1="367.80" x2="329.40" y2="367.80" stroke="#111" stroke-width="0.9" />
<text x="324.70" y="370.80" font-size="8.6" text-anchor="end" font-weight="normal" font-style="normal" fill="#222" stroke="#222" stroke-width="0.18" >1</text>
<line x1="326.60" y1="354.60" x2="329.40" y2="354.60" stroke="#111" stroke-width="0.9" />
<text x="324.70" y="357.60" font-size="8.6" text-anchor="end" font-weight="normal" font-style="normal" fill="#222" stroke="#222" stroke-width="0.18" >1.5</text>
<line x1="326.60" y1="341.40" x2="329.40" y2="341.40" stroke="#111" stroke-width="0.9" />
<text x="324.70" y="344.40" font-size="8.6" text-anchor="end" font-weight="normal" font-style="normal" fill="#222" stroke="#222" stroke-width="0.18" >2</text>
<line x1="326.60" y1="328.20" x2="329.40" y2="328.20" stroke="#111" stroke-width="0.9" />
<text x="324.70" y="331.20" font-size="8.6" text-anchor="end" font-weight="normal" font-style="normal" fill="#222" stroke="#222" stroke-width="0.18" >2.5</text>
<rect x="333.60" y="337.18" width="5.4" height="57.02" fill="#000"/>
<rect x="344.05" y="350.11" width="5.4" height="44.09" fill="#000"/>
<rect x="354.50" y="366.22" width="5.4" height="27.98" fill="#000"/>
<rect x="364.95" y="371.50" width="5.4" height="22.70" fill="#000"/>
<rect x="375.40" y="376.78" width="5.4" height="17.42" fill="#000"/>
<rect x="385.85" y="376.78" width="5.4" height="17.42" fill="#000"/>
<rect x="396.30" y="377.57" width="5.4" height="16.63" fill="#000"/>
<rect x="406.75" y="378.89" width="5.4" height="15.31" fill="#000"/>
<rect x="417.20" y="379.68" width="5.4" height="14.52" fill="#000"/>
<rect x="427.65" y="380.21" width="5.4" height="13.99" fill="#000"/>
<rect x="438.10" y="381.00" width="5.4" height="13.20" fill="#000"/>
<rect x="448.55" y="382.58" width="5.4" height="11.62" fill="#000"/>
<rect x="459.00" y="382.58" width="5.4" height="11.62" fill="#000"/>
<rect x="469.45" y="382.58" width="5.4" height="11.62" fill="#000"/>
<rect x="479.90" y="382.58" width="5.4" height="11.62" fill="#000"/>
<rect x="490.35" y="386.81" width="5.4" height="7.39" fill="#000"/>
<line x1="329.40" y1="394.20" x2="501.60" y2="394.20" stroke="#111" stroke-width="1" />
<line x1="330.78" y1="394.20" x2="330.78" y2="396.60" stroke="#111" stroke-width="0.9" />
<line x1="341.23" y1="394.20" x2="341.23" y2="396.60" stroke="#111" stroke-width="0.9" />
<line x1="351.68" y1="394.20" x2="351.68" y2="396.60" stroke="#111" stroke-width="0.9" />
<line x1="362.13" y1="394.20" x2="362.13" y2="396.60" stroke="#111" stroke-width="0.9" />
<line x1="372.58" y1="394.20" x2="372.58" y2="396.60" stroke="#111" stroke-width="0.9" />
<line x1="383.03" y1="394.20" x2="383.03" y2="396.60" stroke="#111" stroke-width="0.9" />
<line x1="393.48" y1="394.20" x2="393.48" y2="396.60" stroke="#111" stroke-width="0.9" />
<line x1="403.93" y1="394.20" x2="403.93" y2="396.60" stroke="#111" stroke-width="0.9" />
<line x1="414.38" y1="394.20" x2="414.38" y2="396.60" stroke="#111" stroke-width="0.9" />
<line x1="424.83" y1="394.20" x2="424.83" y2="396.60" stroke="#111" stroke-width="0.9" />
<line x1="435.28" y1="394.20" x2="435.28" y2="396.60" stroke="#111" stroke-width="0.9" />
<line x1="445.73" y1="394.20" x2="445.73" y2="396.60" stroke="#111" stroke-width="0.9" />
<line x1="456.18" y1="394.20" x2="456.18" y2="396.60" stroke="#111" stroke-width="0.9" />
<line x1="466.63" y1="394.20" x2="466.63" y2="396.60" stroke="#111" stroke-width="0.9" />
<line x1="477.07" y1="394.20" x2="477.07" y2="396.60" stroke="#111" stroke-width="0.9" />
<line x1="487.53" y1="394.20" x2="487.53" y2="396.60" stroke="#111" stroke-width="0.9" />
<line x1="497.98" y1="394.20" x2="497.98" y2="396.60" stroke="#111" stroke-width="0.9" />
<g transform="translate(336.30,400.90) rotate(-90)"><text x="0" y="2.97" font-size="8.25" text-anchor="end" font-weight="normal" font-style="normal" fill="#222" stroke="#222" stroke-width="0.12">placenta</text></g>
<g transform="translate(346.75,400.90) rotate(-90)"><text x="0" y="2.97" font-size="8.25" text-anchor="end" font-weight="normal" font-style="normal" fill="#222" stroke="#222" stroke-width="0.12">brain</text></g>
<g transform="translate(357.20,400.90) rotate(-90)"><text x="0" y="2.97" font-size="8.25" text-anchor="end" font-weight="normal" font-style="normal" fill="#222" stroke="#222" stroke-width="0.12">spleen</text></g>
<g transform="translate(367.65,400.90) rotate(-90)"><text x="0" y="2.97" font-size="8.25" text-anchor="end" font-weight="normal" font-style="normal" fill="#222" stroke="#222" stroke-width="0.12">small_intestine</text></g>
<g transform="translate(378.10,400.90) rotate(-90)"><text x="0" y="2.97" font-size="8.25" text-anchor="end" font-weight="normal" font-style="normal" fill="#222" stroke="#222" stroke-width="0.12">prostate</text></g>
<g transform="translate(388.55,400.90) rotate(-90)"><text x="0" y="2.97" font-size="8.25" text-anchor="end" font-weight="normal" font-style="normal" fill="#222" stroke="#222" stroke-width="0.12">amygdala</text></g>
<g transform="translate(399.00,400.90) rotate(-90)"><text x="0" y="2.97" font-size="8.25" text-anchor="end" font-weight="normal" font-style="normal" fill="#222" stroke="#222" stroke-width="0.12">large_intestine</text></g>
<g transform="translate(409.45,400.90) rotate(-90)"><text x="0" y="2.97" font-size="8.25" text-anchor="end" font-weight="normal" font-style="normal" fill="#222" stroke="#222" stroke-width="0.12">testis</text></g>
<g transform="translate(419.90,400.90) rotate(-90)"><text x="0" y="2.97" font-size="8.25" text-anchor="end" font-weight="normal" font-style="normal" fill="#222" stroke="#222" stroke-width="0.12">stomach</text></g>
<g transform="translate(430.35,400.90) rotate(-90)"><text x="0" y="2.97" font-size="8.25" text-anchor="end" font-weight="normal" font-style="normal" fill="#222" stroke="#222" stroke-width="0.12">skeletal_muscle</text></g>
<g transform="translate(440.80,400.90) rotate(-90)"><text x="0" y="2.97" font-size="8.25" text-anchor="end" font-weight="normal" font-style="normal" fill="#222" stroke="#222" stroke-width="0.12">pancreas</text></g>
<g transform="translate(451.25,400.90) rotate(-90)"><text x="0" y="2.97" font-size="8.25" text-anchor="end" font-weight="normal" font-style="normal" fill="#222" stroke="#222" stroke-width="0.12">thymus</text></g>
<g transform="translate(461.70,400.90) rotate(-90)"><text x="0" y="2.97" font-size="8.25" text-anchor="end" font-weight="normal" font-style="normal" fill="#222" stroke="#222" stroke-width="0.12">kidney</text></g>
<g transform="translate(472.15,400.90) rotate(-90)"><text x="0" y="2.97" font-size="8.25" text-anchor="end" font-weight="normal" font-style="normal" fill="#222" stroke="#222" stroke-width="0.12">liver</text></g>
<g transform="translate(482.60,400.90) rotate(-90)"><text x="0" y="2.97" font-size="8.25" text-anchor="end" font-weight="normal" font-style="normal" fill="#222" stroke="#222" stroke-width="0.12">lung</text></g>
<g transform="translate(493.05,400.90) rotate(-90)"><text x="0" y="2.97" font-size="8.25" text-anchor="end" font-weight="normal" font-style="normal" fill="#222" stroke="#222" stroke-width="0.12">oocyte</text></g>
<g transform="translate(305.70,359.50) rotate(-90)"><text x="0" y="3.02" font-size="8.4" text-anchor="middle" font-weight="normal" font-style="normal" fill="#222" stroke="#222" stroke-width="0.12" textLength="62" lengthAdjust="spacingAndGlyphs">Ford enrichment</text></g>
<text x="325.00" y="307.70" font-size="9.8" font-weight="bold" fill="#111" stroke="#111" stroke-width="0.3"><tspan font-style="italic" font-size="9.5">Setdb1</tspan><tspan font-size="7.4" dy="-4.9" font-style="italic">&#916;/&#916;</tspan><tspan dy="4.9">/WT H3K9me3 DOWN (&gt; x0.5)</tspan></text>
<text x="415.20" y="319.20" font-size="9.8" text-anchor="middle" font-weight="bold" font-style="normal" fill="#111" stroke="#111" stroke-width="0.3" >in GMP (183 genes)</text>
<rect x="0.5" y="0.5" width="519" height="465" fill="none" stroke="#000" stroke-width="1.2"/>
</svg></div></body></html>
